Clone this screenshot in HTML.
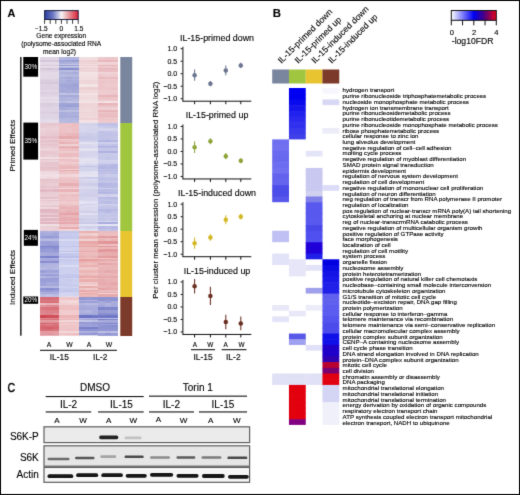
<!DOCTYPE html><html><head><meta charset="utf-8"><style>html,body{margin:0;padding:0;background:#fff;}body{width:520px;height:495px;overflow:hidden;}</style></head><body><svg width="520" height="495" viewBox="0 0 520 495" style="display:block;font-family:'Liberation Sans', sans-serif"><style>text{stroke:currentColor;stroke-width:0.12px;paint-order:stroke} text[fill="#fff"]{stroke:none}</style><rect x="0" y="0" width="520" height="495" fill="#fff"/><defs><filter id="gb" x="0" y="0" width="520" height="495" filterUnits="userSpaceOnUse" color-interpolation-filters="sRGB"><feConvolveMatrix order="3" kernelMatrix="0.01134 0.08382 0.01134 0.08382 0.61935 0.08382 0.01134 0.08382 0.01134" edgeMode="duplicate" preserveAlpha="true"/></filter></defs><g filter="url(#gb)"><rect x="0" y="0" width="520" height="495" fill="#fff"/><text transform="translate(7.4,17.3) scale(0.93,1)" font-size="11.7" font-weight="bold">A</text><defs><linearGradient id="gA" x1="0" x2="1" y1="0" y2="0"><stop offset="0" stop-color="#2c3c9c"/><stop offset="0.25" stop-color="#6b78c4"/><stop offset="0.5" stop-color="#f7f3f5"/><stop offset="0.75" stop-color="#e58c90"/><stop offset="1" stop-color="#dc1f35"/></linearGradient><linearGradient id="gB" x1="0" x2="1" y1="0" y2="0"><stop offset="0" stop-color="#ffffff"/><stop offset="0.5" stop-color="#0000f4"/><stop offset="0.7" stop-color="#3a0090"/><stop offset="0.86" stop-color="#960050"/><stop offset="1" stop-color="#ec001c"/></linearGradient></defs><rect x="44.6" y="10.6" width="33.6" height="8.9" fill="url(#gA)" stroke="#1a1f40" stroke-width="1"/><line x1="44.60" y1="19.5" x2="44.60" y2="23.8" stroke="#222" stroke-width="0.9"/><line x1="50.20" y1="19.5" x2="50.20" y2="23.8" stroke="#222" stroke-width="0.9"/><line x1="55.80" y1="19.5" x2="55.80" y2="23.8" stroke="#222" stroke-width="0.9"/><line x1="61.40" y1="19.5" x2="61.40" y2="23.8" stroke="#222" stroke-width="0.9"/><line x1="67.00" y1="19.5" x2="67.00" y2="23.8" stroke="#222" stroke-width="0.9"/><line x1="72.60" y1="19.5" x2="72.60" y2="23.8" stroke="#222" stroke-width="0.9"/><line x1="78.20" y1="19.5" x2="78.20" y2="23.8" stroke="#222" stroke-width="0.9"/><text font-size="6.5" y="31" text-anchor="middle"><tspan x="41.3">−1.5</tspan><tspan x="61.2">0</tspan><tspan x="78.8">1.5</tspan></text><text font-size="6.6" text-anchor="middle" x="61.3"><tspan x="61.3" y="38.3">Gene expression</tspan><tspan x="61.3" y="46.3">(polysome-associated RNA</tspan><tspan x="59.5" y="54.3">mean log2)</tspan></text><g shape-rendering="crispEdges"><rect x="40.00" y="57" width="7.08" height="3" fill="#dfd5e3"/><rect x="46.48" y="57" width="7.08" height="3" fill="#e0d5e4"/><rect x="52.97" y="57" width="7.08" height="3" fill="#dfd5e3"/><rect x="59.45" y="57" width="7.08" height="3" fill="#b4b8df"/><rect x="65.93" y="57" width="7.08" height="3" fill="#afb3dd"/><rect x="72.42" y="57" width="7.08" height="3" fill="#afb3dd"/><rect x="78.90" y="57" width="7.08" height="3" fill="#f1dee0"/><rect x="85.38" y="57" width="7.08" height="3" fill="#f1dee0"/><rect x="91.87" y="57" width="7.08" height="3" fill="#f1dddf"/><rect x="98.35" y="57" width="7.08" height="3" fill="#edc9cd"/><rect x="104.83" y="57" width="7.08" height="3" fill="#ecc5c9"/><rect x="111.32" y="57" width="6.48" height="3" fill="#ecc7cb"/><rect x="40.00" y="60" width="7.08" height="2" fill="#d4c6da"/><rect x="46.48" y="60" width="7.08" height="2" fill="#d5c8db"/><rect x="52.97" y="60" width="7.08" height="2" fill="#d4c7da"/><rect x="59.45" y="60" width="7.08" height="2" fill="#9fa4d7"/><rect x="65.93" y="60" width="7.08" height="2" fill="#9ea3d6"/><rect x="72.42" y="60" width="7.08" height="2" fill="#999ed4"/><rect x="78.90" y="60" width="7.08" height="2" fill="#edd1d3"/><rect x="85.38" y="60" width="7.08" height="2" fill="#edd1d3"/><rect x="91.87" y="60" width="7.08" height="2" fill="#eccfd1"/><rect x="98.35" y="60" width="7.08" height="2" fill="#e7b6ba"/><rect x="104.83" y="60" width="7.08" height="2" fill="#e8b6bb"/><rect x="111.32" y="60" width="6.48" height="2" fill="#e8b9bd"/><rect x="40.00" y="62" width="7.08" height="2" fill="#e3dae7"/><rect x="46.48" y="62" width="7.08" height="2" fill="#e3dbe7"/><rect x="52.97" y="62" width="7.08" height="2" fill="#e4dbe7"/><rect x="59.45" y="62" width="7.08" height="2" fill="#aaafdb"/><rect x="65.93" y="62" width="7.08" height="2" fill="#aeb2dc"/><rect x="72.42" y="62" width="7.08" height="2" fill="#b1b5de"/><rect x="78.90" y="62" width="7.08" height="2" fill="#eed4d6"/><rect x="85.38" y="62" width="7.08" height="2" fill="#eed3d5"/><rect x="91.87" y="62" width="7.08" height="2" fill="#eed3d5"/><rect x="98.35" y="62" width="7.08" height="2" fill="#f1d7da"/><rect x="104.83" y="62" width="7.08" height="2" fill="#f0d4d7"/><rect x="111.32" y="62" width="6.48" height="2" fill="#f0d6d9"/><rect x="40.00" y="64" width="7.08" height="1" fill="#e2d8e6"/><rect x="46.48" y="64" width="7.08" height="1" fill="#e1d7e5"/><rect x="52.97" y="64" width="7.08" height="1" fill="#e2d8e6"/><rect x="59.45" y="64" width="7.08" height="1" fill="#c3c5e4"/><rect x="65.93" y="64" width="7.08" height="1" fill="#c5c7e5"/><rect x="72.42" y="64" width="7.08" height="1" fill="#c3c6e5"/><rect x="78.90" y="64" width="7.08" height="1" fill="#f1dcde"/><rect x="85.38" y="64" width="7.08" height="1" fill="#f1dcde"/><rect x="91.87" y="64" width="7.08" height="1" fill="#f1dddf"/><rect x="98.35" y="64" width="7.08" height="1" fill="#f0d3d6"/><rect x="104.83" y="64" width="7.08" height="1" fill="#eecfd2"/><rect x="111.32" y="64" width="6.48" height="1" fill="#efd0d3"/><rect x="40.00" y="65" width="7.08" height="1" fill="#d8ccdd"/><rect x="46.48" y="65" width="7.08" height="1" fill="#d9cdde"/><rect x="52.97" y="65" width="7.08" height="1" fill="#d9ccde"/><rect x="59.45" y="65" width="7.08" height="1" fill="#969cd3"/><rect x="65.93" y="65" width="7.08" height="1" fill="#979cd3"/><rect x="72.42" y="65" width="7.08" height="1" fill="#9ba0d5"/><rect x="78.90" y="65" width="7.08" height="1" fill="#edd1d3"/><rect x="85.38" y="65" width="7.08" height="1" fill="#edd1d3"/><rect x="91.87" y="65" width="7.08" height="1" fill="#edd1d3"/><rect x="98.35" y="65" width="7.08" height="1" fill="#e8b7bc"/><rect x="104.83" y="65" width="7.08" height="1" fill="#e8b9bd"/><rect x="111.32" y="65" width="6.48" height="1" fill="#e8b8bd"/><rect x="40.00" y="66" width="7.08" height="1" fill="#e7dfea"/><rect x="46.48" y="66" width="7.08" height="1" fill="#e7e0ea"/><rect x="52.97" y="66" width="7.08" height="1" fill="#e6dee9"/><rect x="59.45" y="66" width="7.08" height="1" fill="#c6c8e6"/><rect x="65.93" y="66" width="7.08" height="1" fill="#c7c9e6"/><rect x="72.42" y="66" width="7.08" height="1" fill="#c2c5e4"/><rect x="78.90" y="66" width="7.08" height="1" fill="#f2dfe1"/><rect x="85.38" y="66" width="7.08" height="1" fill="#f1dee0"/><rect x="91.87" y="66" width="7.08" height="1" fill="#f2e0e2"/><rect x="98.35" y="66" width="7.08" height="1" fill="#ecc7cb"/><rect x="104.83" y="66" width="7.08" height="1" fill="#edcace"/><rect x="111.32" y="66" width="6.48" height="1" fill="#ecc5c9"/><rect x="40.00" y="67" width="7.08" height="1" fill="#e3d9e6"/><rect x="46.48" y="67" width="7.08" height="1" fill="#e3d9e6"/><rect x="52.97" y="67" width="7.08" height="1" fill="#e3dae7"/><rect x="59.45" y="67" width="7.08" height="1" fill="#b3b6de"/><rect x="65.93" y="67" width="7.08" height="1" fill="#b5b9df"/><rect x="72.42" y="67" width="7.08" height="1" fill="#b6b9df"/><rect x="78.90" y="67" width="7.08" height="1" fill="#efd6d8"/><rect x="85.38" y="67" width="7.08" height="1" fill="#eed5d7"/><rect x="91.87" y="67" width="7.08" height="1" fill="#efd7d9"/><rect x="98.35" y="67" width="7.08" height="1" fill="#edc9cd"/><rect x="104.83" y="67" width="7.08" height="1" fill="#edc8cc"/><rect x="111.32" y="67" width="6.48" height="1" fill="#edc9cd"/><rect x="40.00" y="68" width="7.08" height="2" fill="#d6c9db"/><rect x="46.48" y="68" width="7.08" height="2" fill="#d4c6da"/><rect x="52.97" y="68" width="7.08" height="2" fill="#d6c9dc"/><rect x="59.45" y="68" width="7.08" height="2" fill="#8990ce"/><rect x="65.93" y="68" width="7.08" height="2" fill="#858ccd"/><rect x="72.42" y="68" width="7.08" height="2" fill="#8990ce"/><rect x="78.90" y="68" width="7.08" height="2" fill="#edd2d4"/><rect x="85.38" y="68" width="7.08" height="2" fill="#eed5d7"/><rect x="91.87" y="68" width="7.08" height="2" fill="#eed5d7"/><rect x="98.35" y="68" width="7.08" height="2" fill="#e8b9be"/><rect x="104.83" y="68" width="7.08" height="2" fill="#e8b9be"/><rect x="111.32" y="68" width="6.48" height="2" fill="#e8b8bd"/><rect x="40.00" y="70" width="7.08" height="2" fill="#ddd3e2"/><rect x="46.48" y="70" width="7.08" height="2" fill="#ded3e2"/><rect x="52.97" y="70" width="7.08" height="2" fill="#ddd2e2"/><rect x="59.45" y="70" width="7.08" height="2" fill="#b7bae0"/><rect x="65.93" y="70" width="7.08" height="2" fill="#babde1"/><rect x="72.42" y="70" width="7.08" height="2" fill="#b7bae0"/><rect x="78.90" y="70" width="7.08" height="2" fill="#eed5d7"/><rect x="85.38" y="70" width="7.08" height="2" fill="#eed5d7"/><rect x="91.87" y="70" width="7.08" height="2" fill="#eed5d7"/><rect x="98.35" y="70" width="7.08" height="2" fill="#eac0c4"/><rect x="104.83" y="70" width="7.08" height="2" fill="#eabec2"/><rect x="111.32" y="70" width="6.48" height="2" fill="#eabfc3"/><rect x="40.00" y="72" width="7.08" height="2" fill="#e2d9e6"/><rect x="46.48" y="72" width="7.08" height="2" fill="#e3dae7"/><rect x="52.97" y="72" width="7.08" height="2" fill="#e4dbe8"/><rect x="59.45" y="72" width="7.08" height="2" fill="#acb0db"/><rect x="65.93" y="72" width="7.08" height="2" fill="#aaafdb"/><rect x="72.42" y="72" width="7.08" height="2" fill="#a8acda"/><rect x="78.90" y="72" width="7.08" height="2" fill="#f3e4e6"/><rect x="85.38" y="72" width="7.08" height="2" fill="#f3e4e6"/><rect x="91.87" y="72" width="7.08" height="2" fill="#f3e3e5"/><rect x="98.35" y="72" width="7.08" height="2" fill="#f0d4d7"/><rect x="104.83" y="72" width="7.08" height="2" fill="#f0d4d8"/><rect x="111.32" y="72" width="6.48" height="2" fill="#f0d3d6"/><rect x="40.00" y="74" width="7.08" height="3" fill="#e3dae6"/><rect x="46.48" y="74" width="7.08" height="3" fill="#e2d9e6"/><rect x="52.97" y="74" width="7.08" height="3" fill="#e2d9e6"/><rect x="59.45" y="74" width="7.08" height="3" fill="#b6b9e0"/><rect x="65.93" y="74" width="7.08" height="3" fill="#b4b7df"/><rect x="72.42" y="74" width="7.08" height="3" fill="#b4b7df"/><rect x="78.90" y="74" width="7.08" height="3" fill="#f2e1e3"/><rect x="85.38" y="74" width="7.08" height="3" fill="#f2e0e2"/><rect x="91.87" y="74" width="7.08" height="3" fill="#f2e0e2"/><rect x="98.35" y="74" width="7.08" height="3" fill="#edc8cc"/><rect x="104.83" y="74" width="7.08" height="3" fill="#eeccd0"/><rect x="111.32" y="74" width="6.48" height="3" fill="#eeccd0"/><rect x="40.00" y="77" width="7.08" height="2" fill="#e2d9e6"/><rect x="46.48" y="77" width="7.08" height="2" fill="#e3d9e6"/><rect x="52.97" y="77" width="7.08" height="2" fill="#e3d9e6"/><rect x="59.45" y="77" width="7.08" height="2" fill="#aaafdb"/><rect x="65.93" y="77" width="7.08" height="2" fill="#a4a8d8"/><rect x="72.42" y="77" width="7.08" height="2" fill="#a9adda"/><rect x="78.90" y="77" width="7.08" height="2" fill="#f1dddf"/><rect x="85.38" y="77" width="7.08" height="2" fill="#f1dee0"/><rect x="91.87" y="77" width="7.08" height="2" fill="#f1dddf"/><rect x="98.35" y="77" width="7.08" height="2" fill="#e9babf"/><rect x="104.83" y="77" width="7.08" height="2" fill="#eabec3"/><rect x="111.32" y="77" width="6.48" height="2" fill="#e9bbc0"/><rect x="40.00" y="79" width="7.08" height="1" fill="#dbcfe0"/><rect x="46.48" y="79" width="7.08" height="1" fill="#ddd2e1"/><rect x="52.97" y="79" width="7.08" height="1" fill="#dcd1e1"/><rect x="59.45" y="79" width="7.08" height="1" fill="#b3b6de"/><rect x="65.93" y="79" width="7.08" height="1" fill="#b0b4dd"/><rect x="72.42" y="79" width="7.08" height="1" fill="#aeb2dd"/><rect x="78.90" y="79" width="7.08" height="1" fill="#f1dcde"/><rect x="85.38" y="79" width="7.08" height="1" fill="#f0dbdd"/><rect x="91.87" y="79" width="7.08" height="1" fill="#f1dddf"/><rect x="98.35" y="79" width="7.08" height="1" fill="#eeccd0"/><rect x="104.83" y="79" width="7.08" height="1" fill="#edc9cd"/><rect x="111.32" y="79" width="6.48" height="1" fill="#edcace"/><rect x="40.00" y="80" width="7.08" height="2" fill="#dacedf"/><rect x="46.48" y="80" width="7.08" height="2" fill="#d9cdde"/><rect x="52.97" y="80" width="7.08" height="2" fill="#dacedf"/><rect x="59.45" y="80" width="7.08" height="2" fill="#adb1dc"/><rect x="65.93" y="80" width="7.08" height="2" fill="#a4a9d9"/><rect x="72.42" y="80" width="7.08" height="2" fill="#aaaedb"/><rect x="78.90" y="80" width="7.08" height="2" fill="#efd6d8"/><rect x="85.38" y="80" width="7.08" height="2" fill="#eed5d7"/><rect x="91.87" y="80" width="7.08" height="2" fill="#efd6d8"/><rect x="98.35" y="80" width="7.08" height="2" fill="#ecc5c9"/><rect x="104.83" y="80" width="7.08" height="2" fill="#ecc6ca"/><rect x="111.32" y="80" width="6.48" height="2" fill="#ecc5c9"/><rect x="40.00" y="82" width="7.08" height="2" fill="#d7cadc"/><rect x="46.48" y="82" width="7.08" height="2" fill="#d6c9dc"/><rect x="52.97" y="82" width="7.08" height="2" fill="#d5c8db"/><rect x="59.45" y="82" width="7.08" height="2" fill="#aaaedb"/><rect x="65.93" y="82" width="7.08" height="2" fill="#a7acda"/><rect x="72.42" y="82" width="7.08" height="2" fill="#a4a9d9"/><rect x="78.90" y="82" width="7.08" height="2" fill="#efd7d9"/><rect x="85.38" y="82" width="7.08" height="2" fill="#efd6d8"/><rect x="91.87" y="82" width="7.08" height="2" fill="#efd6d8"/><rect x="98.35" y="82" width="7.08" height="2" fill="#ecc6ca"/><rect x="104.83" y="82" width="7.08" height="2" fill="#ecc7cb"/><rect x="111.32" y="82" width="6.48" height="2" fill="#ecc6ca"/><rect x="40.00" y="84" width="7.08" height="3" fill="#ddd2e2"/><rect x="46.48" y="84" width="7.08" height="3" fill="#dcd1e1"/><rect x="52.97" y="84" width="7.08" height="3" fill="#ded3e2"/><rect x="59.45" y="84" width="7.08" height="3" fill="#a1a6d7"/><rect x="65.93" y="84" width="7.08" height="3" fill="#a1a6d7"/><rect x="72.42" y="84" width="7.08" height="3" fill="#9ea3d6"/><rect x="78.90" y="84" width="7.08" height="3" fill="#f4e5e7"/><rect x="85.38" y="84" width="7.08" height="3" fill="#f3e3e5"/><rect x="91.87" y="84" width="7.08" height="3" fill="#f3e4e6"/><rect x="98.35" y="84" width="7.08" height="3" fill="#ecc6ca"/><rect x="104.83" y="84" width="7.08" height="3" fill="#edcbcf"/><rect x="111.32" y="84" width="6.48" height="3" fill="#edcace"/><rect x="40.00" y="87" width="7.08" height="3" fill="#dcd0e0"/><rect x="46.48" y="87" width="7.08" height="3" fill="#ddd2e1"/><rect x="52.97" y="87" width="7.08" height="3" fill="#dcd1e1"/><rect x="59.45" y="87" width="7.08" height="3" fill="#a7abda"/><rect x="65.93" y="87" width="7.08" height="3" fill="#a2a7d8"/><rect x="72.42" y="87" width="7.08" height="3" fill="#a2a7d8"/><rect x="78.90" y="87" width="7.08" height="3" fill="#edd0d2"/><rect x="85.38" y="87" width="7.08" height="3" fill="#eccfd1"/><rect x="91.87" y="87" width="7.08" height="3" fill="#eccfd1"/><rect x="98.35" y="87" width="7.08" height="3" fill="#ecc5c9"/><rect x="104.83" y="87" width="7.08" height="3" fill="#ecc5c9"/><rect x="111.32" y="87" width="6.48" height="3" fill="#ebc4c8"/><rect x="40.00" y="90" width="7.08" height="2" fill="#e1d7e5"/><rect x="46.48" y="90" width="7.08" height="2" fill="#e0d6e4"/><rect x="52.97" y="90" width="7.08" height="2" fill="#e0d5e4"/><rect x="59.45" y="90" width="7.08" height="2" fill="#a3a8d8"/><rect x="65.93" y="90" width="7.08" height="2" fill="#a9adda"/><rect x="72.42" y="90" width="7.08" height="2" fill="#a6aad9"/><rect x="78.90" y="90" width="7.08" height="2" fill="#f0d9db"/><rect x="85.38" y="90" width="7.08" height="2" fill="#f0d9db"/><rect x="91.87" y="90" width="7.08" height="2" fill="#f0dadc"/><rect x="98.35" y="90" width="7.08" height="2" fill="#edcbcf"/><rect x="104.83" y="90" width="7.08" height="2" fill="#edcbcf"/><rect x="111.32" y="90" width="6.48" height="2" fill="#edcbcf"/><rect x="40.00" y="92" width="7.08" height="1" fill="#d9cdde"/><rect x="46.48" y="92" width="7.08" height="1" fill="#dbcfe0"/><rect x="52.97" y="92" width="7.08" height="1" fill="#dacedf"/><rect x="59.45" y="92" width="7.08" height="1" fill="#a9adda"/><rect x="65.93" y="92" width="7.08" height="1" fill="#a4a9d9"/><rect x="72.42" y="92" width="7.08" height="1" fill="#a3a8d8"/><rect x="78.90" y="92" width="7.08" height="1" fill="#eed5d7"/><rect x="85.38" y="92" width="7.08" height="1" fill="#eed4d6"/><rect x="91.87" y="92" width="7.08" height="1" fill="#efd6d8"/><rect x="98.35" y="92" width="7.08" height="1" fill="#edcbcf"/><rect x="104.83" y="92" width="7.08" height="1" fill="#edcbcf"/><rect x="111.32" y="92" width="6.48" height="1" fill="#edcace"/><rect x="40.00" y="93" width="7.08" height="2" fill="#dbd0e0"/><rect x="46.48" y="93" width="7.08" height="2" fill="#ddd3e2"/><rect x="52.97" y="93" width="7.08" height="2" fill="#dcd0e0"/><rect x="59.45" y="93" width="7.08" height="2" fill="#c2c4e4"/><rect x="65.93" y="93" width="7.08" height="2" fill="#bec1e3"/><rect x="72.42" y="93" width="7.08" height="2" fill="#bfc2e3"/><rect x="78.90" y="93" width="7.08" height="2" fill="#f3e4e6"/><rect x="85.38" y="93" width="7.08" height="2" fill="#f3e4e6"/><rect x="91.87" y="93" width="7.08" height="2" fill="#f3e3e5"/><rect x="98.35" y="93" width="7.08" height="2" fill="#edcbcf"/><rect x="104.83" y="93" width="7.08" height="2" fill="#edcace"/><rect x="111.32" y="93" width="6.48" height="2" fill="#ecc7cb"/><rect x="40.00" y="95" width="7.08" height="2" fill="#dfd5e3"/><rect x="46.48" y="95" width="7.08" height="2" fill="#e0d6e4"/><rect x="52.97" y="95" width="7.08" height="2" fill="#e0d6e4"/><rect x="59.45" y="95" width="7.08" height="2" fill="#a5aad9"/><rect x="65.93" y="95" width="7.08" height="2" fill="#a6aad9"/><rect x="72.42" y="95" width="7.08" height="2" fill="#a5aad9"/><rect x="78.90" y="95" width="7.08" height="2" fill="#f1dcde"/><rect x="85.38" y="95" width="7.08" height="2" fill="#f0dbdd"/><rect x="91.87" y="95" width="7.08" height="2" fill="#f0dadc"/><rect x="98.35" y="95" width="7.08" height="2" fill="#e8b7bc"/><rect x="104.83" y="95" width="7.08" height="2" fill="#e7b4b9"/><rect x="111.32" y="95" width="6.48" height="2" fill="#e7b5b9"/><rect x="40.00" y="97" width="7.08" height="2" fill="#e6dde9"/><rect x="46.48" y="97" width="7.08" height="2" fill="#e4dce8"/><rect x="52.97" y="97" width="7.08" height="2" fill="#e6dde9"/><rect x="59.45" y="97" width="7.08" height="2" fill="#afb3dd"/><rect x="65.93" y="97" width="7.08" height="2" fill="#b3b7de"/><rect x="72.42" y="97" width="7.08" height="2" fill="#aeb2dc"/><rect x="78.90" y="97" width="7.08" height="2" fill="#f0d9db"/><rect x="85.38" y="97" width="7.08" height="2" fill="#f0dadc"/><rect x="91.87" y="97" width="7.08" height="2" fill="#f0dadc"/><rect x="98.35" y="97" width="7.08" height="2" fill="#ebc3c7"/><rect x="104.83" y="97" width="7.08" height="2" fill="#ebc1c5"/><rect x="111.32" y="97" width="6.48" height="2" fill="#ecc5c9"/><rect x="40.00" y="99" width="7.08" height="2" fill="#e2d9e6"/><rect x="46.48" y="99" width="7.08" height="2" fill="#e2d8e5"/><rect x="52.97" y="99" width="7.08" height="2" fill="#e1d8e5"/><rect x="59.45" y="99" width="7.08" height="2" fill="#b0b4dd"/><rect x="65.93" y="99" width="7.08" height="2" fill="#b0b4dd"/><rect x="72.42" y="99" width="7.08" height="2" fill="#b6b9e0"/><rect x="78.90" y="99" width="7.08" height="2" fill="#f1dee0"/><rect x="85.38" y="99" width="7.08" height="2" fill="#f1dee0"/><rect x="91.87" y="99" width="7.08" height="2" fill="#f1dcde"/><rect x="98.35" y="99" width="7.08" height="2" fill="#ecc7cb"/><rect x="104.83" y="99" width="7.08" height="2" fill="#ecc8cc"/><rect x="111.32" y="99" width="6.48" height="2" fill="#ecc6ca"/><rect x="40.00" y="101" width="7.08" height="2" fill="#e3dae7"/><rect x="46.48" y="101" width="7.08" height="2" fill="#e4dbe7"/><rect x="52.97" y="101" width="7.08" height="2" fill="#e5dde8"/><rect x="59.45" y="101" width="7.08" height="2" fill="#b8bbe0"/><rect x="65.93" y="101" width="7.08" height="2" fill="#c1c3e4"/><rect x="72.42" y="101" width="7.08" height="2" fill="#bfc1e3"/><rect x="78.90" y="101" width="7.08" height="2" fill="#f3e4e6"/><rect x="85.38" y="101" width="7.08" height="2" fill="#f3e4e6"/><rect x="91.87" y="101" width="7.08" height="2" fill="#f3e3e5"/><rect x="98.35" y="101" width="7.08" height="2" fill="#f3e1e4"/><rect x="104.83" y="101" width="7.08" height="2" fill="#f4e4e7"/><rect x="111.32" y="101" width="6.48" height="2" fill="#f3e0e3"/><rect x="40.00" y="103" width="7.08" height="2" fill="#dacedf"/><rect x="46.48" y="103" width="7.08" height="2" fill="#d8ccde"/><rect x="52.97" y="103" width="7.08" height="2" fill="#dacfdf"/><rect x="59.45" y="103" width="7.08" height="2" fill="#9fa4d7"/><rect x="65.93" y="103" width="7.08" height="2" fill="#a0a5d7"/><rect x="72.42" y="103" width="7.08" height="2" fill="#a0a5d7"/><rect x="78.90" y="103" width="7.08" height="2" fill="#eed3d5"/><rect x="85.38" y="103" width="7.08" height="2" fill="#eed3d5"/><rect x="91.87" y="103" width="7.08" height="2" fill="#eed4d6"/><rect x="98.35" y="103" width="7.08" height="2" fill="#e7b3b7"/><rect x="104.83" y="103" width="7.08" height="2" fill="#e7b5b9"/><rect x="111.32" y="103" width="6.48" height="2" fill="#e8b6bb"/><rect x="40.00" y="105" width="7.08" height="2" fill="#dbcfe0"/><rect x="46.48" y="105" width="7.08" height="2" fill="#dacfdf"/><rect x="52.97" y="105" width="7.08" height="2" fill="#dcd1e1"/><rect x="59.45" y="105" width="7.08" height="2" fill="#9da2d6"/><rect x="65.93" y="105" width="7.08" height="2" fill="#979dd4"/><rect x="72.42" y="105" width="7.08" height="2" fill="#9aa0d5"/><rect x="78.90" y="105" width="7.08" height="2" fill="#eed3d5"/><rect x="85.38" y="105" width="7.08" height="2" fill="#eed4d6"/><rect x="91.87" y="105" width="7.08" height="2" fill="#eed3d5"/><rect x="98.35" y="105" width="7.08" height="2" fill="#ebc1c5"/><rect x="104.83" y="105" width="7.08" height="2" fill="#eac0c4"/><rect x="111.32" y="105" width="6.48" height="2" fill="#ebc1c5"/><rect x="40.00" y="107" width="7.08" height="3" fill="#e0d5e4"/><rect x="46.48" y="107" width="7.08" height="3" fill="#ded4e2"/><rect x="52.97" y="107" width="7.08" height="3" fill="#e0d6e4"/><rect x="59.45" y="107" width="7.08" height="3" fill="#a5aad9"/><rect x="65.93" y="107" width="7.08" height="3" fill="#aaaedb"/><rect x="72.42" y="107" width="7.08" height="3" fill="#acb1dc"/><rect x="78.90" y="107" width="7.08" height="3" fill="#efd6d8"/><rect x="85.38" y="107" width="7.08" height="3" fill="#efd6d8"/><rect x="91.87" y="107" width="7.08" height="3" fill="#efd6d8"/><rect x="98.35" y="107" width="7.08" height="3" fill="#eeced2"/><rect x="104.83" y="107" width="7.08" height="3" fill="#eeced2"/><rect x="111.32" y="107" width="6.48" height="3" fill="#efd0d4"/><rect x="40.00" y="110" width="7.08" height="2" fill="#ded4e3"/><rect x="46.48" y="110" width="7.08" height="2" fill="#ded4e3"/><rect x="52.97" y="110" width="7.08" height="2" fill="#ded3e2"/><rect x="59.45" y="110" width="7.08" height="2" fill="#bbbee2"/><rect x="65.93" y="110" width="7.08" height="2" fill="#bdc0e2"/><rect x="72.42" y="110" width="7.08" height="2" fill="#bcbfe2"/><rect x="78.90" y="110" width="7.08" height="2" fill="#efd8da"/><rect x="85.38" y="110" width="7.08" height="2" fill="#f0dadc"/><rect x="91.87" y="110" width="7.08" height="2" fill="#efd7d9"/><rect x="98.35" y="110" width="7.08" height="2" fill="#e7b5b9"/><rect x="104.83" y="110" width="7.08" height="2" fill="#e7b4b9"/><rect x="111.32" y="110" width="6.48" height="2" fill="#e8b7bc"/><rect x="40.00" y="112" width="7.08" height="1" fill="#d8cbdd"/><rect x="46.48" y="112" width="7.08" height="1" fill="#d9cdde"/><rect x="52.97" y="112" width="7.08" height="1" fill="#d6c8db"/><rect x="59.45" y="112" width="7.08" height="1" fill="#a7acda"/><rect x="65.93" y="112" width="7.08" height="1" fill="#adb1dc"/><rect x="72.42" y="112" width="7.08" height="1" fill="#a7acda"/><rect x="78.90" y="112" width="7.08" height="1" fill="#eed4d6"/><rect x="85.38" y="112" width="7.08" height="1" fill="#eed4d6"/><rect x="91.87" y="112" width="7.08" height="1" fill="#efd7d9"/><rect x="98.35" y="112" width="7.08" height="1" fill="#ecc6ca"/><rect x="104.83" y="112" width="7.08" height="1" fill="#ecc5c9"/><rect x="111.32" y="112" width="6.48" height="1" fill="#ebc3c7"/><rect x="40.00" y="113" width="7.08" height="3" fill="#dfd4e3"/><rect x="46.48" y="113" width="7.08" height="3" fill="#dfd4e3"/><rect x="52.97" y="113" width="7.08" height="3" fill="#ded3e2"/><rect x="59.45" y="113" width="7.08" height="3" fill="#a9adda"/><rect x="65.93" y="113" width="7.08" height="3" fill="#acb0dc"/><rect x="72.42" y="113" width="7.08" height="3" fill="#adb1dc"/><rect x="78.90" y="113" width="7.08" height="3" fill="#efd7d9"/><rect x="85.38" y="113" width="7.08" height="3" fill="#efd8da"/><rect x="91.87" y="113" width="7.08" height="3" fill="#efd7d9"/><rect x="98.35" y="113" width="7.08" height="3" fill="#eabec3"/><rect x="104.83" y="113" width="7.08" height="3" fill="#e9bdc1"/><rect x="111.32" y="113" width="6.48" height="3" fill="#eabfc4"/><rect x="40.00" y="116" width="7.08" height="1" fill="#dfd5e4"/><rect x="46.48" y="116" width="7.08" height="1" fill="#dfd5e3"/><rect x="52.97" y="116" width="7.08" height="1" fill="#e0d6e4"/><rect x="59.45" y="116" width="7.08" height="1" fill="#aaaedb"/><rect x="65.93" y="116" width="7.08" height="1" fill="#a9addb"/><rect x="72.42" y="116" width="7.08" height="1" fill="#a6aad9"/><rect x="78.90" y="116" width="7.08" height="1" fill="#f0dadc"/><rect x="85.38" y="116" width="7.08" height="1" fill="#f0dbdd"/><rect x="91.87" y="116" width="7.08" height="1" fill="#f0dbdd"/><rect x="98.35" y="116" width="7.08" height="1" fill="#e8b9bd"/><rect x="104.83" y="116" width="7.08" height="1" fill="#e8b9bd"/><rect x="111.32" y="116" width="6.48" height="1" fill="#e8b8bd"/><rect x="40.00" y="117" width="7.08" height="1" fill="#dcd1e1"/><rect x="46.48" y="117" width="7.08" height="1" fill="#ddd2e2"/><rect x="52.97" y="117" width="7.08" height="1" fill="#ddd2e1"/><rect x="59.45" y="117" width="7.08" height="1" fill="#a7acda"/><rect x="65.93" y="117" width="7.08" height="1" fill="#abafdb"/><rect x="72.42" y="117" width="7.08" height="1" fill="#aaafdb"/><rect x="78.90" y="117" width="7.08" height="1" fill="#efd7d9"/><rect x="85.38" y="117" width="7.08" height="1" fill="#efd8da"/><rect x="91.87" y="117" width="7.08" height="1" fill="#efd6d8"/><rect x="98.35" y="117" width="7.08" height="1" fill="#ecc7cb"/><rect x="104.83" y="117" width="7.08" height="1" fill="#ecc7cb"/><rect x="111.32" y="117" width="6.48" height="1" fill="#ecc8cb"/><rect x="40.00" y="118" width="7.08" height="2" fill="#e2d9e6"/><rect x="46.48" y="118" width="7.08" height="2" fill="#e2d9e6"/><rect x="52.97" y="118" width="7.08" height="2" fill="#e0d6e4"/><rect x="59.45" y="118" width="7.08" height="2" fill="#b4b8df"/><rect x="65.93" y="118" width="7.08" height="2" fill="#b4b7df"/><rect x="72.42" y="118" width="7.08" height="2" fill="#b2b5de"/><rect x="78.90" y="118" width="7.08" height="2" fill="#eed3d5"/><rect x="85.38" y="118" width="7.08" height="2" fill="#edd2d4"/><rect x="91.87" y="118" width="7.08" height="2" fill="#edd0d2"/><rect x="98.35" y="118" width="7.08" height="2" fill="#ecc5c9"/><rect x="104.83" y="118" width="7.08" height="2" fill="#ecc5c9"/><rect x="111.32" y="118" width="6.48" height="2" fill="#ecc6ca"/><rect x="40.00" y="120" width="7.08" height="3" fill="#e3dae7"/><rect x="46.48" y="120" width="7.08" height="3" fill="#e4dce8"/><rect x="52.97" y="120" width="7.08" height="3" fill="#e4dce8"/><rect x="59.45" y="120" width="7.08" height="3" fill="#b8bbe0"/><rect x="65.93" y="120" width="7.08" height="3" fill="#b5b9df"/><rect x="72.42" y="120" width="7.08" height="3" fill="#b7bae0"/><rect x="78.90" y="120" width="7.08" height="3" fill="#f2e1e3"/><rect x="85.38" y="120" width="7.08" height="3" fill="#f2e1e3"/><rect x="91.87" y="120" width="7.08" height="3" fill="#f3e2e4"/><rect x="98.35" y="120" width="7.08" height="3" fill="#edc8cc"/><rect x="104.83" y="120" width="7.08" height="3" fill="#edc9cd"/><rect x="111.32" y="120" width="6.48" height="3" fill="#edc9cd"/><rect x="40.00" y="123" width="7.08" height="3" fill="#e8c9d1"/><rect x="46.48" y="123" width="7.08" height="3" fill="#e7c7cf"/><rect x="52.97" y="123" width="7.08" height="3" fill="#e7c6ce"/><rect x="59.45" y="123" width="7.08" height="3" fill="#ecc1c5"/><rect x="65.93" y="123" width="7.08" height="3" fill="#ecc2c6"/><rect x="72.42" y="123" width="7.08" height="3" fill="#ebbdc1"/><rect x="78.90" y="123" width="7.08" height="3" fill="#d3d3ec"/><rect x="85.38" y="123" width="7.08" height="3" fill="#d3d3ec"/><rect x="91.87" y="123" width="7.08" height="3" fill="#d1d1eb"/><rect x="98.35" y="123" width="7.08" height="3" fill="#c0c2e7"/><rect x="104.83" y="123" width="7.08" height="3" fill="#bfc1e6"/><rect x="111.32" y="123" width="6.48" height="3" fill="#bdbfe6"/><rect x="40.00" y="126" width="7.08" height="2" fill="#e8c9d1"/><rect x="46.48" y="126" width="7.08" height="2" fill="#eaced5"/><rect x="52.97" y="126" width="7.08" height="2" fill="#eacfd6"/><rect x="59.45" y="126" width="7.08" height="2" fill="#edc3c6"/><rect x="65.93" y="126" width="7.08" height="2" fill="#ecc1c5"/><rect x="72.42" y="126" width="7.08" height="2" fill="#ecc0c3"/><rect x="78.90" y="126" width="7.08" height="2" fill="#d7d7ed"/><rect x="85.38" y="126" width="7.08" height="2" fill="#d5d5ec"/><rect x="91.87" y="126" width="7.08" height="2" fill="#d6d6ed"/><rect x="98.35" y="126" width="7.08" height="2" fill="#cbccea"/><rect x="104.83" y="126" width="7.08" height="2" fill="#c6c8e9"/><rect x="111.32" y="126" width="6.48" height="2" fill="#c6c8e9"/><rect x="40.00" y="128" width="7.08" height="3" fill="#ecd3d9"/><rect x="46.48" y="128" width="7.08" height="3" fill="#eacfd6"/><rect x="52.97" y="128" width="7.08" height="3" fill="#ebd0d7"/><rect x="59.45" y="128" width="7.08" height="3" fill="#edc3c7"/><rect x="65.93" y="128" width="7.08" height="3" fill="#edc4c7"/><rect x="72.42" y="128" width="7.08" height="3" fill="#ebbec2"/><rect x="78.90" y="128" width="7.08" height="3" fill="#d6d6ed"/><rect x="85.38" y="128" width="7.08" height="3" fill="#d4d4ec"/><rect x="91.87" y="128" width="7.08" height="3" fill="#d3d3ec"/><rect x="98.35" y="128" width="7.08" height="3" fill="#d4d4ed"/><rect x="104.83" y="128" width="7.08" height="3" fill="#d4d4ed"/><rect x="111.32" y="128" width="6.48" height="3" fill="#d2d2ed"/><rect x="40.00" y="131" width="7.08" height="2" fill="#eacfd6"/><rect x="46.48" y="131" width="7.08" height="2" fill="#e9cbd3"/><rect x="52.97" y="131" width="7.08" height="2" fill="#e9cbd3"/><rect x="59.45" y="131" width="7.08" height="2" fill="#ecc1c5"/><rect x="65.93" y="131" width="7.08" height="2" fill="#edc4c8"/><rect x="72.42" y="131" width="7.08" height="2" fill="#edc3c7"/><rect x="78.90" y="131" width="7.08" height="2" fill="#d4d4ec"/><rect x="85.38" y="131" width="7.08" height="2" fill="#d3d3ec"/><rect x="91.87" y="131" width="7.08" height="2" fill="#d5d5ec"/><rect x="98.35" y="131" width="7.08" height="2" fill="#bfc1e6"/><rect x="104.83" y="131" width="7.08" height="2" fill="#c3c4e8"/><rect x="111.32" y="131" width="6.48" height="2" fill="#c5c6e8"/><rect x="40.00" y="133" width="7.08" height="3" fill="#eacdd4"/><rect x="46.48" y="133" width="7.08" height="3" fill="#e9cad2"/><rect x="52.97" y="133" width="7.08" height="3" fill="#e8c8d0"/><rect x="59.45" y="133" width="7.08" height="3" fill="#ebbbbf"/><rect x="65.93" y="133" width="7.08" height="3" fill="#eab8bc"/><rect x="72.42" y="133" width="7.08" height="3" fill="#eab6ba"/><rect x="78.90" y="133" width="7.08" height="3" fill="#cdceea"/><rect x="85.38" y="133" width="7.08" height="3" fill="#cccce9"/><rect x="91.87" y="133" width="7.08" height="3" fill="#cccde9"/><rect x="98.35" y="133" width="7.08" height="3" fill="#c2c4e7"/><rect x="104.83" y="133" width="7.08" height="3" fill="#c0c2e7"/><rect x="111.32" y="133" width="6.48" height="3" fill="#c2c3e7"/><rect x="40.00" y="136" width="7.08" height="3" fill="#e5bfc8"/><rect x="46.48" y="136" width="7.08" height="3" fill="#e6c2cb"/><rect x="52.97" y="136" width="7.08" height="3" fill="#e5c0c9"/><rect x="59.45" y="136" width="7.08" height="3" fill="#e6aaae"/><rect x="65.93" y="136" width="7.08" height="3" fill="#e6aaae"/><rect x="72.42" y="136" width="7.08" height="3" fill="#e7acb0"/><rect x="78.90" y="136" width="7.08" height="3" fill="#c6c7e7"/><rect x="85.38" y="136" width="7.08" height="3" fill="#c7c7e7"/><rect x="91.87" y="136" width="7.08" height="3" fill="#cacbe8"/><rect x="98.35" y="136" width="7.08" height="3" fill="#c0c2e7"/><rect x="104.83" y="136" width="7.08" height="3" fill="#c2c3e7"/><rect x="111.32" y="136" width="6.48" height="3" fill="#c4c6e8"/><rect x="40.00" y="139" width="7.08" height="1" fill="#ebd0d7"/><rect x="46.48" y="139" width="7.08" height="1" fill="#ebd0d7"/><rect x="52.97" y="139" width="7.08" height="1" fill="#eaced5"/><rect x="59.45" y="139" width="7.08" height="1" fill="#efccd0"/><rect x="65.93" y="139" width="7.08" height="1" fill="#eecacd"/><rect x="72.42" y="139" width="7.08" height="1" fill="#efcace"/><rect x="78.90" y="139" width="7.08" height="1" fill="#c8c9e8"/><rect x="85.38" y="139" width="7.08" height="1" fill="#c7c8e7"/><rect x="91.87" y="139" width="7.08" height="1" fill="#c8c8e7"/><rect x="98.35" y="139" width="7.08" height="1" fill="#c1c3e7"/><rect x="104.83" y="139" width="7.08" height="1" fill="#bec0e6"/><rect x="111.32" y="139" width="6.48" height="1" fill="#c2c4e7"/><rect x="40.00" y="140" width="7.08" height="2" fill="#e5c1ca"/><rect x="46.48" y="140" width="7.08" height="2" fill="#e5c1ca"/><rect x="52.97" y="140" width="7.08" height="2" fill="#e4bec7"/><rect x="59.45" y="140" width="7.08" height="2" fill="#ecbfc3"/><rect x="65.93" y="140" width="7.08" height="2" fill="#ecc1c4"/><rect x="72.42" y="140" width="7.08" height="2" fill="#edc3c6"/><rect x="78.90" y="140" width="7.08" height="2" fill="#cfcfea"/><rect x="85.38" y="140" width="7.08" height="2" fill="#d0d0ea"/><rect x="91.87" y="140" width="7.08" height="2" fill="#cfd0ea"/><rect x="98.35" y="140" width="7.08" height="2" fill="#b5b7e3"/><rect x="104.83" y="140" width="7.08" height="2" fill="#b1b3e2"/><rect x="111.32" y="140" width="6.48" height="2" fill="#b5b8e3"/><rect x="40.00" y="142" width="7.08" height="2" fill="#e8c9d0"/><rect x="46.48" y="142" width="7.08" height="2" fill="#e8c9d1"/><rect x="52.97" y="142" width="7.08" height="2" fill="#e8c8d0"/><rect x="59.45" y="142" width="7.08" height="2" fill="#e8b1b5"/><rect x="65.93" y="142" width="7.08" height="2" fill="#e9b5b9"/><rect x="72.42" y="142" width="7.08" height="2" fill="#eab8bc"/><rect x="78.90" y="142" width="7.08" height="2" fill="#e3e2f2"/><rect x="85.38" y="142" width="7.08" height="2" fill="#e2e2f1"/><rect x="91.87" y="142" width="7.08" height="2" fill="#e1e0f1"/><rect x="98.35" y="142" width="7.08" height="2" fill="#cecfeb"/><rect x="104.83" y="142" width="7.08" height="2" fill="#cecfeb"/><rect x="111.32" y="142" width="6.48" height="2" fill="#cecfeb"/><rect x="40.00" y="144" width="7.08" height="2" fill="#e7c5ce"/><rect x="46.48" y="144" width="7.08" height="2" fill="#e6c4cc"/><rect x="52.97" y="144" width="7.08" height="2" fill="#e7c5cd"/><rect x="59.45" y="144" width="7.08" height="2" fill="#f0d0d3"/><rect x="65.93" y="144" width="7.08" height="2" fill="#f0d0d3"/><rect x="72.42" y="144" width="7.08" height="2" fill="#f0d1d5"/><rect x="78.90" y="144" width="7.08" height="2" fill="#d7d7ed"/><rect x="85.38" y="144" width="7.08" height="2" fill="#d8d8ee"/><rect x="91.87" y="144" width="7.08" height="2" fill="#dadaee"/><rect x="98.35" y="144" width="7.08" height="2" fill="#c2c3e7"/><rect x="104.83" y="144" width="7.08" height="2" fill="#c5c6e8"/><rect x="111.32" y="144" width="6.48" height="2" fill="#c0c2e7"/><rect x="40.00" y="146" width="7.08" height="1" fill="#eacdd4"/><rect x="46.48" y="146" width="7.08" height="1" fill="#ebcfd6"/><rect x="52.97" y="146" width="7.08" height="1" fill="#ebcfd6"/><rect x="59.45" y="146" width="7.08" height="1" fill="#ebbcc0"/><rect x="65.93" y="146" width="7.08" height="1" fill="#ebbec1"/><rect x="72.42" y="146" width="7.08" height="1" fill="#eab7bb"/><rect x="78.90" y="146" width="7.08" height="1" fill="#d6d5ed"/><rect x="85.38" y="146" width="7.08" height="1" fill="#d5d5ec"/><rect x="91.87" y="146" width="7.08" height="1" fill="#d7d7ed"/><rect x="98.35" y="146" width="7.08" height="1" fill="#aeb1e1"/><rect x="104.83" y="146" width="7.08" height="1" fill="#b2b4e2"/><rect x="111.32" y="146" width="6.48" height="1" fill="#b0b2e1"/><rect x="40.00" y="147" width="7.08" height="1" fill="#e8c7cf"/><rect x="46.48" y="147" width="7.08" height="1" fill="#e9c9d1"/><rect x="52.97" y="147" width="7.08" height="1" fill="#e7c7cf"/><rect x="59.45" y="147" width="7.08" height="1" fill="#e5a3a8"/><rect x="65.93" y="147" width="7.08" height="1" fill="#e5a3a8"/><rect x="72.42" y="147" width="7.08" height="1" fill="#e5a2a7"/><rect x="78.90" y="147" width="7.08" height="1" fill="#d3d3ec"/><rect x="85.38" y="147" width="7.08" height="1" fill="#d1d1eb"/><rect x="91.87" y="147" width="7.08" height="1" fill="#d4d4ec"/><rect x="98.35" y="147" width="7.08" height="1" fill="#b9bbe4"/><rect x="104.83" y="147" width="7.08" height="1" fill="#b9bbe4"/><rect x="111.32" y="147" width="6.48" height="1" fill="#babce5"/><rect x="40.00" y="148" width="7.08" height="3" fill="#ecd4da"/><rect x="46.48" y="148" width="7.08" height="3" fill="#ecd4da"/><rect x="52.97" y="148" width="7.08" height="3" fill="#ebd1d8"/><rect x="59.45" y="148" width="7.08" height="3" fill="#ecc0c4"/><rect x="65.93" y="148" width="7.08" height="3" fill="#ecc1c5"/><rect x="72.42" y="148" width="7.08" height="3" fill="#ebbec2"/><rect x="78.90" y="148" width="7.08" height="3" fill="#e4e3f2"/><rect x="85.38" y="148" width="7.08" height="3" fill="#e3e2f1"/><rect x="91.87" y="148" width="7.08" height="3" fill="#e2e1f1"/><rect x="98.35" y="148" width="7.08" height="3" fill="#c5c6e8"/><rect x="104.83" y="148" width="7.08" height="3" fill="#c4c5e8"/><rect x="111.32" y="148" width="6.48" height="3" fill="#c5c7e8"/><rect x="40.00" y="151" width="7.08" height="2" fill="#e8c7cf"/><rect x="46.48" y="151" width="7.08" height="2" fill="#e8c8d0"/><rect x="52.97" y="151" width="7.08" height="2" fill="#e9cad2"/><rect x="59.45" y="151" width="7.08" height="2" fill="#efcbce"/><rect x="65.93" y="151" width="7.08" height="2" fill="#efcccf"/><rect x="72.42" y="151" width="7.08" height="2" fill="#efcbce"/><rect x="78.90" y="151" width="7.08" height="2" fill="#d4d4ec"/><rect x="85.38" y="151" width="7.08" height="2" fill="#d5d5ec"/><rect x="91.87" y="151" width="7.08" height="2" fill="#d6d5ed"/><rect x="98.35" y="151" width="7.08" height="2" fill="#afb2e1"/><rect x="104.83" y="151" width="7.08" height="2" fill="#b0b3e1"/><rect x="111.32" y="151" width="6.48" height="2" fill="#adb0e0"/><rect x="40.00" y="153" width="7.08" height="1" fill="#e7c6cf"/><rect x="46.48" y="153" width="7.08" height="1" fill="#e6c4cc"/><rect x="52.97" y="153" width="7.08" height="1" fill="#e7c6ce"/><rect x="59.45" y="153" width="7.08" height="1" fill="#ebbec2"/><rect x="65.93" y="153" width="7.08" height="1" fill="#ebbdc0"/><rect x="72.42" y="153" width="7.08" height="1" fill="#ebbbbf"/><rect x="78.90" y="153" width="7.08" height="1" fill="#d5d5ec"/><rect x="85.38" y="153" width="7.08" height="1" fill="#d4d4ec"/><rect x="91.87" y="153" width="7.08" height="1" fill="#d5d5ec"/><rect x="98.35" y="153" width="7.08" height="1" fill="#c9caea"/><rect x="104.83" y="153" width="7.08" height="1" fill="#cbccea"/><rect x="111.32" y="153" width="6.48" height="1" fill="#c8c9e9"/><rect x="40.00" y="154" width="7.08" height="3" fill="#e8c9d1"/><rect x="46.48" y="154" width="7.08" height="3" fill="#eaced5"/><rect x="52.97" y="154" width="7.08" height="3" fill="#e9cbd2"/><rect x="59.45" y="154" width="7.08" height="3" fill="#ebbbbf"/><rect x="65.93" y="154" width="7.08" height="3" fill="#ebbcbf"/><rect x="72.42" y="154" width="7.08" height="3" fill="#ebbec1"/><rect x="78.90" y="154" width="7.08" height="3" fill="#d3d4ec"/><rect x="85.38" y="154" width="7.08" height="3" fill="#d5d5ed"/><rect x="91.87" y="154" width="7.08" height="3" fill="#d6d6ed"/><rect x="98.35" y="154" width="7.08" height="3" fill="#c9caea"/><rect x="104.83" y="154" width="7.08" height="3" fill="#c7c9e9"/><rect x="111.32" y="154" width="6.48" height="3" fill="#c8cae9"/><rect x="40.00" y="157" width="7.08" height="2" fill="#f1dfe4"/><rect x="46.48" y="157" width="7.08" height="2" fill="#f0dee3"/><rect x="52.97" y="157" width="7.08" height="2" fill="#f0dee3"/><rect x="59.45" y="157" width="7.08" height="2" fill="#f0d0d3"/><rect x="65.93" y="157" width="7.08" height="2" fill="#f0d1d5"/><rect x="72.42" y="157" width="7.08" height="2" fill="#f1d3d6"/><rect x="78.90" y="157" width="7.08" height="2" fill="#dcdcef"/><rect x="85.38" y="157" width="7.08" height="2" fill="#ddddef"/><rect x="91.87" y="157" width="7.08" height="2" fill="#dddcef"/><rect x="98.35" y="157" width="7.08" height="2" fill="#c6c7e9"/><rect x="104.83" y="157" width="7.08" height="2" fill="#c4c5e8"/><rect x="111.32" y="157" width="6.48" height="2" fill="#c6c7e9"/><rect x="40.00" y="159" width="7.08" height="1" fill="#e7c6ce"/><rect x="46.48" y="159" width="7.08" height="1" fill="#e8c7cf"/><rect x="52.97" y="159" width="7.08" height="1" fill="#e7c5cd"/><rect x="59.45" y="159" width="7.08" height="1" fill="#ecbfc3"/><rect x="65.93" y="159" width="7.08" height="1" fill="#edc4c7"/><rect x="72.42" y="159" width="7.08" height="1" fill="#eec6ca"/><rect x="78.90" y="159" width="7.08" height="1" fill="#e4e4f2"/><rect x="85.38" y="159" width="7.08" height="1" fill="#e6e5f3"/><rect x="91.87" y="159" width="7.08" height="1" fill="#e5e4f2"/><rect x="98.35" y="159" width="7.08" height="1" fill="#c9caea"/><rect x="104.83" y="159" width="7.08" height="1" fill="#c3c5e8"/><rect x="111.32" y="159" width="6.48" height="1" fill="#c8c9e9"/><rect x="40.00" y="160" width="7.08" height="2" fill="#ebd1d8"/><rect x="46.48" y="160" width="7.08" height="2" fill="#ecd3d9"/><rect x="52.97" y="160" width="7.08" height="2" fill="#ecd4da"/><rect x="59.45" y="160" width="7.08" height="2" fill="#edc5c9"/><rect x="65.93" y="160" width="7.08" height="2" fill="#edc3c7"/><rect x="72.42" y="160" width="7.08" height="2" fill="#ecbfc3"/><rect x="78.90" y="160" width="7.08" height="2" fill="#e1e1f1"/><rect x="85.38" y="160" width="7.08" height="2" fill="#e1e0f1"/><rect x="91.87" y="160" width="7.08" height="2" fill="#e1e0f1"/><rect x="98.35" y="160" width="7.08" height="2" fill="#d2d3ed"/><rect x="104.83" y="160" width="7.08" height="2" fill="#d2d2ed"/><rect x="111.32" y="160" width="6.48" height="2" fill="#d3d3ed"/><rect x="40.00" y="162" width="7.08" height="2" fill="#e8c7cf"/><rect x="46.48" y="162" width="7.08" height="2" fill="#e7c4cd"/><rect x="52.97" y="162" width="7.08" height="2" fill="#e6c4cc"/><rect x="59.45" y="162" width="7.08" height="2" fill="#f0cfd2"/><rect x="65.93" y="162" width="7.08" height="2" fill="#efcccf"/><rect x="72.42" y="162" width="7.08" height="2" fill="#f0ced1"/><rect x="78.90" y="162" width="7.08" height="2" fill="#e1e1f1"/><rect x="85.38" y="162" width="7.08" height="2" fill="#dfdef0"/><rect x="91.87" y="162" width="7.08" height="2" fill="#e0e0f0"/><rect x="98.35" y="162" width="7.08" height="2" fill="#cdceeb"/><rect x="104.83" y="162" width="7.08" height="2" fill="#cfd0ec"/><rect x="111.32" y="162" width="6.48" height="2" fill="#cecfeb"/><rect x="40.00" y="164" width="7.08" height="2" fill="#e7c6ce"/><rect x="46.48" y="164" width="7.08" height="2" fill="#e7c5cd"/><rect x="52.97" y="164" width="7.08" height="2" fill="#e7c5cd"/><rect x="59.45" y="164" width="7.08" height="2" fill="#ecc0c3"/><rect x="65.93" y="164" width="7.08" height="2" fill="#ecc1c5"/><rect x="72.42" y="164" width="7.08" height="2" fill="#ecc2c6"/><rect x="78.90" y="164" width="7.08" height="2" fill="#d8d8ee"/><rect x="85.38" y="164" width="7.08" height="2" fill="#d4d4ec"/><rect x="91.87" y="164" width="7.08" height="2" fill="#d6d6ed"/><rect x="98.35" y="164" width="7.08" height="2" fill="#bbbde5"/><rect x="104.83" y="164" width="7.08" height="2" fill="#bbbde5"/><rect x="111.32" y="164" width="6.48" height="2" fill="#b4b7e3"/><rect x="40.00" y="166" width="7.08" height="1" fill="#e8c8d0"/><rect x="46.48" y="166" width="7.08" height="1" fill="#e8c8d0"/><rect x="52.97" y="166" width="7.08" height="1" fill="#e8c7cf"/><rect x="59.45" y="166" width="7.08" height="1" fill="#eab6ba"/><rect x="65.93" y="166" width="7.08" height="1" fill="#e9b5b9"/><rect x="72.42" y="166" width="7.08" height="1" fill="#eab7bb"/><rect x="78.90" y="166" width="7.08" height="1" fill="#c4c5e6"/><rect x="85.38" y="166" width="7.08" height="1" fill="#c2c3e5"/><rect x="91.87" y="166" width="7.08" height="1" fill="#c4c5e6"/><rect x="98.35" y="166" width="7.08" height="1" fill="#b3b6e2"/><rect x="104.83" y="166" width="7.08" height="1" fill="#b6b8e3"/><rect x="111.32" y="166" width="6.48" height="1" fill="#b3b6e2"/><rect x="40.00" y="167" width="7.08" height="2" fill="#e5c0c9"/><rect x="46.48" y="167" width="7.08" height="2" fill="#e5c0c9"/><rect x="52.97" y="167" width="7.08" height="2" fill="#e4bfc8"/><rect x="59.45" y="167" width="7.08" height="2" fill="#e9b6ba"/><rect x="65.93" y="167" width="7.08" height="2" fill="#e9b6ba"/><rect x="72.42" y="167" width="7.08" height="2" fill="#eab7bb"/><rect x="78.90" y="167" width="7.08" height="2" fill="#d2d2eb"/><rect x="85.38" y="167" width="7.08" height="2" fill="#d2d3eb"/><rect x="91.87" y="167" width="7.08" height="2" fill="#d3d3eb"/><rect x="98.35" y="167" width="7.08" height="2" fill="#b2b5e2"/><rect x="104.83" y="167" width="7.08" height="2" fill="#b5b8e3"/><rect x="111.32" y="167" width="6.48" height="2" fill="#b3b6e2"/><rect x="40.00" y="169" width="7.08" height="1" fill="#e7c5ce"/><rect x="46.48" y="169" width="7.08" height="1" fill="#e7c6ce"/><rect x="52.97" y="169" width="7.08" height="1" fill="#e7c4cd"/><rect x="59.45" y="169" width="7.08" height="1" fill="#f0d1d5"/><rect x="65.93" y="169" width="7.08" height="1" fill="#f1d5d8"/><rect x="72.42" y="169" width="7.08" height="1" fill="#f1d3d6"/><rect x="78.90" y="169" width="7.08" height="1" fill="#d2d2eb"/><rect x="85.38" y="169" width="7.08" height="1" fill="#d3d3ec"/><rect x="91.87" y="169" width="7.08" height="1" fill="#d3d3eb"/><rect x="98.35" y="169" width="7.08" height="1" fill="#c2c3e7"/><rect x="104.83" y="169" width="7.08" height="1" fill="#bec0e6"/><rect x="111.32" y="169" width="6.48" height="1" fill="#c2c3e7"/><rect x="40.00" y="170" width="7.08" height="1" fill="#e7c4cd"/><rect x="46.48" y="170" width="7.08" height="1" fill="#e7c5cd"/><rect x="52.97" y="170" width="7.08" height="1" fill="#e7c6ce"/><rect x="59.45" y="170" width="7.08" height="1" fill="#e7aaaf"/><rect x="65.93" y="170" width="7.08" height="1" fill="#e7abb0"/><rect x="72.42" y="170" width="7.08" height="1" fill="#e6aaae"/><rect x="78.90" y="170" width="7.08" height="1" fill="#d2d2eb"/><rect x="85.38" y="170" width="7.08" height="1" fill="#cfcfea"/><rect x="91.87" y="170" width="7.08" height="1" fill="#d1d1eb"/><rect x="98.35" y="170" width="7.08" height="1" fill="#b5b8e3"/><rect x="104.83" y="170" width="7.08" height="1" fill="#b4b7e3"/><rect x="111.32" y="170" width="6.48" height="1" fill="#b5b7e3"/><rect x="40.00" y="171" width="7.08" height="3" fill="#efd9df"/><rect x="46.48" y="171" width="7.08" height="3" fill="#eed9df"/><rect x="52.97" y="171" width="7.08" height="3" fill="#eed7de"/><rect x="59.45" y="171" width="7.08" height="3" fill="#edc2c6"/><rect x="65.93" y="171" width="7.08" height="3" fill="#edc5c8"/><rect x="72.42" y="171" width="7.08" height="3" fill="#edc3c6"/><rect x="78.90" y="171" width="7.08" height="3" fill="#dfdef0"/><rect x="85.38" y="171" width="7.08" height="3" fill="#e1e0f1"/><rect x="91.87" y="171" width="7.08" height="3" fill="#e3e2f1"/><rect x="98.35" y="171" width="7.08" height="3" fill="#bec0e6"/><rect x="104.83" y="171" width="7.08" height="3" fill="#bfc1e6"/><rect x="111.32" y="171" width="6.48" height="3" fill="#bcbfe5"/><rect x="40.00" y="174" width="7.08" height="3" fill="#f0dee4"/><rect x="46.48" y="174" width="7.08" height="3" fill="#f1dfe4"/><rect x="52.97" y="174" width="7.08" height="3" fill="#f1e0e5"/><rect x="59.45" y="174" width="7.08" height="3" fill="#f1d5d8"/><rect x="65.93" y="174" width="7.08" height="3" fill="#f1d5d8"/><rect x="72.42" y="174" width="7.08" height="3" fill="#f2d9dc"/><rect x="78.90" y="174" width="7.08" height="3" fill="#e5e4f2"/><rect x="85.38" y="174" width="7.08" height="3" fill="#e4e3f2"/><rect x="91.87" y="174" width="7.08" height="3" fill="#e3e3f2"/><rect x="98.35" y="174" width="7.08" height="3" fill="#c6c7e9"/><rect x="104.83" y="174" width="7.08" height="3" fill="#cccdeb"/><rect x="111.32" y="174" width="6.48" height="3" fill="#c9cbea"/><rect x="40.00" y="177" width="7.08" height="2" fill="#efdbe1"/><rect x="46.48" y="177" width="7.08" height="2" fill="#eed7de"/><rect x="52.97" y="177" width="7.08" height="2" fill="#efdbe1"/><rect x="59.45" y="177" width="7.08" height="2" fill="#eec6ca"/><rect x="65.93" y="177" width="7.08" height="2" fill="#edc6c9"/><rect x="72.42" y="177" width="7.08" height="2" fill="#eec8cb"/><rect x="78.90" y="177" width="7.08" height="2" fill="#cfcfea"/><rect x="85.38" y="177" width="7.08" height="2" fill="#cbcbe9"/><rect x="91.87" y="177" width="7.08" height="2" fill="#cccde9"/><rect x="98.35" y="177" width="7.08" height="2" fill="#bfc1e6"/><rect x="104.83" y="177" width="7.08" height="2" fill="#c0c1e7"/><rect x="111.32" y="177" width="6.48" height="2" fill="#c0c2e7"/><rect x="40.00" y="179" width="7.08" height="1" fill="#e5c0c9"/><rect x="46.48" y="179" width="7.08" height="1" fill="#e4bfc8"/><rect x="52.97" y="179" width="7.08" height="1" fill="#e5c0c9"/><rect x="59.45" y="179" width="7.08" height="1" fill="#ecc2c6"/><rect x="65.93" y="179" width="7.08" height="1" fill="#edc2c6"/><rect x="72.42" y="179" width="7.08" height="1" fill="#edc6c9"/><rect x="78.90" y="179" width="7.08" height="1" fill="#dbdbef"/><rect x="85.38" y="179" width="7.08" height="1" fill="#dfdef0"/><rect x="91.87" y="179" width="7.08" height="1" fill="#dfdef0"/><rect x="98.35" y="179" width="7.08" height="1" fill="#babce5"/><rect x="104.83" y="179" width="7.08" height="1" fill="#bec0e6"/><rect x="111.32" y="179" width="6.48" height="1" fill="#bbbde5"/><rect x="40.00" y="180" width="7.08" height="3" fill="#e8c7cf"/><rect x="46.48" y="180" width="7.08" height="3" fill="#e8c8d0"/><rect x="52.97" y="180" width="7.08" height="3" fill="#e8c7cf"/><rect x="59.45" y="180" width="7.08" height="3" fill="#ecc1c4"/><rect x="65.93" y="180" width="7.08" height="3" fill="#ecc1c4"/><rect x="72.42" y="180" width="7.08" height="3" fill="#ecbfc3"/><rect x="78.90" y="180" width="7.08" height="3" fill="#d4d4ec"/><rect x="85.38" y="180" width="7.08" height="3" fill="#d5d5ec"/><rect x="91.87" y="180" width="7.08" height="3" fill="#d6d6ed"/><rect x="98.35" y="180" width="7.08" height="3" fill="#c4c6e8"/><rect x="104.83" y="180" width="7.08" height="3" fill="#c4c6e8"/><rect x="111.32" y="180" width="6.48" height="3" fill="#c3c5e8"/><rect x="40.00" y="183" width="7.08" height="3" fill="#e9cad2"/><rect x="46.48" y="183" width="7.08" height="3" fill="#eaced5"/><rect x="52.97" y="183" width="7.08" height="3" fill="#e9ccd3"/><rect x="59.45" y="183" width="7.08" height="3" fill="#e7aeb2"/><rect x="65.93" y="183" width="7.08" height="3" fill="#e7adb2"/><rect x="72.42" y="183" width="7.08" height="3" fill="#e8afb3"/><rect x="78.90" y="183" width="7.08" height="3" fill="#d0d0eb"/><rect x="85.38" y="183" width="7.08" height="3" fill="#ceceea"/><rect x="91.87" y="183" width="7.08" height="3" fill="#cccce9"/><rect x="98.35" y="183" width="7.08" height="3" fill="#b2b5e2"/><rect x="104.83" y="183" width="7.08" height="3" fill="#b5b8e3"/><rect x="111.32" y="183" width="6.48" height="3" fill="#b7bae4"/><rect x="40.00" y="186" width="7.08" height="2" fill="#e5c1ca"/><rect x="46.48" y="186" width="7.08" height="2" fill="#e7c5cd"/><rect x="52.97" y="186" width="7.08" height="2" fill="#e6c3cc"/><rect x="59.45" y="186" width="7.08" height="2" fill="#ecc0c4"/><rect x="65.93" y="186" width="7.08" height="2" fill="#edc3c7"/><rect x="72.42" y="186" width="7.08" height="2" fill="#ecc0c4"/><rect x="78.90" y="186" width="7.08" height="2" fill="#d9d8ee"/><rect x="85.38" y="186" width="7.08" height="2" fill="#d9d9ee"/><rect x="91.87" y="186" width="7.08" height="2" fill="#d7d7ed"/><rect x="98.35" y="186" width="7.08" height="2" fill="#babce5"/><rect x="104.83" y="186" width="7.08" height="2" fill="#b8bae4"/><rect x="111.32" y="186" width="6.48" height="2" fill="#b9bce4"/><rect x="40.00" y="188" width="7.08" height="1" fill="#ebd0d7"/><rect x="46.48" y="188" width="7.08" height="1" fill="#ebd0d7"/><rect x="52.97" y="188" width="7.08" height="1" fill="#ebd1d8"/><rect x="59.45" y="188" width="7.08" height="1" fill="#f1d5d8"/><rect x="65.93" y="188" width="7.08" height="1" fill="#f1d5d8"/><rect x="72.42" y="188" width="7.08" height="1" fill="#f1d3d6"/><rect x="78.90" y="188" width="7.08" height="1" fill="#dbdaef"/><rect x="85.38" y="188" width="7.08" height="1" fill="#dadaee"/><rect x="91.87" y="188" width="7.08" height="1" fill="#d9d9ee"/><rect x="98.35" y="188" width="7.08" height="1" fill="#cdceeb"/><rect x="104.83" y="188" width="7.08" height="1" fill="#cecfeb"/><rect x="111.32" y="188" width="6.48" height="1" fill="#cccdeb"/><rect x="40.00" y="189" width="7.08" height="3" fill="#e2b8c2"/><rect x="46.48" y="189" width="7.08" height="3" fill="#e4bcc6"/><rect x="52.97" y="189" width="7.08" height="3" fill="#e2b7c1"/><rect x="59.45" y="189" width="7.08" height="3" fill="#e9b3b8"/><rect x="65.93" y="189" width="7.08" height="3" fill="#e9b2b6"/><rect x="72.42" y="189" width="7.08" height="3" fill="#e8b1b6"/><rect x="78.90" y="189" width="7.08" height="3" fill="#d3d3eb"/><rect x="85.38" y="189" width="7.08" height="3" fill="#d2d3eb"/><rect x="91.87" y="189" width="7.08" height="3" fill="#d0d0eb"/><rect x="98.35" y="189" width="7.08" height="3" fill="#b9bce4"/><rect x="104.83" y="189" width="7.08" height="3" fill="#babce5"/><rect x="111.32" y="189" width="6.48" height="3" fill="#bbbee5"/><rect x="40.00" y="192" width="7.08" height="2" fill="#e9cbd3"/><rect x="46.48" y="192" width="7.08" height="2" fill="#e9ccd3"/><rect x="52.97" y="192" width="7.08" height="2" fill="#e9ccd3"/><rect x="59.45" y="192" width="7.08" height="2" fill="#efcdd1"/><rect x="65.93" y="192" width="7.08" height="2" fill="#efcdd1"/><rect x="72.42" y="192" width="7.08" height="2" fill="#f0d0d3"/><rect x="78.90" y="192" width="7.08" height="2" fill="#d1d1eb"/><rect x="85.38" y="192" width="7.08" height="2" fill="#d0d0eb"/><rect x="91.87" y="192" width="7.08" height="2" fill="#d0d0eb"/><rect x="98.35" y="192" width="7.08" height="2" fill="#b4b6e3"/><rect x="104.83" y="192" width="7.08" height="2" fill="#b5b8e3"/><rect x="111.32" y="192" width="6.48" height="2" fill="#b7b9e4"/><rect x="40.00" y="194" width="7.08" height="3" fill="#eacdd5"/><rect x="46.48" y="194" width="7.08" height="3" fill="#eaccd4"/><rect x="52.97" y="194" width="7.08" height="3" fill="#eaced6"/><rect x="59.45" y="194" width="7.08" height="3" fill="#ecbfc3"/><rect x="65.93" y="194" width="7.08" height="3" fill="#ecc2c5"/><rect x="72.42" y="194" width="7.08" height="3" fill="#ebbec2"/><rect x="78.90" y="194" width="7.08" height="3" fill="#cfcfea"/><rect x="85.38" y="194" width="7.08" height="3" fill="#cfcfea"/><rect x="91.87" y="194" width="7.08" height="3" fill="#cfcfea"/><rect x="98.35" y="194" width="7.08" height="3" fill="#d3d3ed"/><rect x="104.83" y="194" width="7.08" height="3" fill="#cfd0ec"/><rect x="111.32" y="194" width="6.48" height="3" fill="#d4d4ed"/><rect x="40.00" y="197" width="7.08" height="2" fill="#e5c1ca"/><rect x="46.48" y="197" width="7.08" height="2" fill="#e6c2ca"/><rect x="52.97" y="197" width="7.08" height="2" fill="#e6c2cb"/><rect x="59.45" y="197" width="7.08" height="2" fill="#edc4c7"/><rect x="65.93" y="197" width="7.08" height="2" fill="#edc4c7"/><rect x="72.42" y="197" width="7.08" height="2" fill="#edc4c8"/><rect x="78.90" y="197" width="7.08" height="2" fill="#d4d4ec"/><rect x="85.38" y="197" width="7.08" height="2" fill="#d6d6ed"/><rect x="91.87" y="197" width="7.08" height="2" fill="#d7d6ed"/><rect x="98.35" y="197" width="7.08" height="2" fill="#babce5"/><rect x="104.83" y="197" width="7.08" height="2" fill="#b7bae4"/><rect x="111.32" y="197" width="6.48" height="2" fill="#b6b9e3"/><rect x="40.00" y="199" width="7.08" height="1" fill="#edd7dd"/><rect x="46.48" y="199" width="7.08" height="1" fill="#eed8de"/><rect x="52.97" y="199" width="7.08" height="1" fill="#eed8de"/><rect x="59.45" y="199" width="7.08" height="1" fill="#edc2c6"/><rect x="65.93" y="199" width="7.08" height="1" fill="#eec6ca"/><rect x="72.42" y="199" width="7.08" height="1" fill="#eec7ca"/><rect x="78.90" y="199" width="7.08" height="1" fill="#d6d5ed"/><rect x="85.38" y="199" width="7.08" height="1" fill="#d7d7ed"/><rect x="91.87" y="199" width="7.08" height="1" fill="#d5d5ec"/><rect x="98.35" y="199" width="7.08" height="1" fill="#c3c4e8"/><rect x="104.83" y="199" width="7.08" height="1" fill="#bec0e6"/><rect x="111.32" y="199" width="6.48" height="1" fill="#bcbee5"/><rect x="40.00" y="200" width="7.08" height="1" fill="#e8c7cf"/><rect x="46.48" y="200" width="7.08" height="1" fill="#e7c5cd"/><rect x="52.97" y="200" width="7.08" height="1" fill="#e7c4cd"/><rect x="59.45" y="200" width="7.08" height="1" fill="#ecbfc3"/><rect x="65.93" y="200" width="7.08" height="1" fill="#ebbcc0"/><rect x="72.42" y="200" width="7.08" height="1" fill="#ecbec2"/><rect x="78.90" y="200" width="7.08" height="1" fill="#d9d9ee"/><rect x="85.38" y="200" width="7.08" height="1" fill="#d5d5ec"/><rect x="91.87" y="200" width="7.08" height="1" fill="#d7d7ed"/><rect x="98.35" y="200" width="7.08" height="1" fill="#c1c2e7"/><rect x="104.83" y="200" width="7.08" height="1" fill="#c2c4e7"/><rect x="111.32" y="200" width="6.48" height="1" fill="#c3c4e8"/><rect x="40.00" y="201" width="7.08" height="3" fill="#ecd2d8"/><rect x="46.48" y="201" width="7.08" height="3" fill="#ecd2d8"/><rect x="52.97" y="201" width="7.08" height="3" fill="#ecd3da"/><rect x="59.45" y="201" width="7.08" height="3" fill="#efcccf"/><rect x="65.93" y="201" width="7.08" height="3" fill="#eecacd"/><rect x="72.42" y="201" width="7.08" height="3" fill="#efcbce"/><rect x="78.90" y="201" width="7.08" height="3" fill="#e4e3f2"/><rect x="85.38" y="201" width="7.08" height="3" fill="#e2e1f1"/><rect x="91.87" y="201" width="7.08" height="3" fill="#e2e1f1"/><rect x="98.35" y="201" width="7.08" height="3" fill="#bec0e6"/><rect x="104.83" y="201" width="7.08" height="3" fill="#b9bbe4"/><rect x="111.32" y="201" width="6.48" height="3" fill="#bdbfe6"/><rect x="40.00" y="204" width="7.08" height="1" fill="#efdae0"/><rect x="46.48" y="204" width="7.08" height="1" fill="#efdae0"/><rect x="52.97" y="204" width="7.08" height="1" fill="#efdbe0"/><rect x="59.45" y="204" width="7.08" height="1" fill="#eec7cb"/><rect x="65.93" y="204" width="7.08" height="1" fill="#eec8cc"/><rect x="72.42" y="204" width="7.08" height="1" fill="#efcccf"/><rect x="78.90" y="204" width="7.08" height="1" fill="#d3d3ec"/><rect x="85.38" y="204" width="7.08" height="1" fill="#d1d1eb"/><rect x="91.87" y="204" width="7.08" height="1" fill="#d3d3ec"/><rect x="98.35" y="204" width="7.08" height="1" fill="#d4d4ed"/><rect x="104.83" y="204" width="7.08" height="1" fill="#d5d6ee"/><rect x="111.32" y="204" width="6.48" height="1" fill="#d0d1ec"/><rect x="40.00" y="205" width="7.08" height="2" fill="#e9cbd3"/><rect x="46.48" y="205" width="7.08" height="2" fill="#e9cbd2"/><rect x="52.97" y="205" width="7.08" height="2" fill="#e7c6ce"/><rect x="59.45" y="205" width="7.08" height="2" fill="#ebbabe"/><rect x="65.93" y="205" width="7.08" height="2" fill="#ebbdc1"/><rect x="72.42" y="205" width="7.08" height="2" fill="#ebbabe"/><rect x="78.90" y="205" width="7.08" height="2" fill="#d9d9ee"/><rect x="85.38" y="205" width="7.08" height="2" fill="#ddddef"/><rect x="91.87" y="205" width="7.08" height="2" fill="#deddf0"/><rect x="98.35" y="205" width="7.08" height="2" fill="#c7c8e9"/><rect x="104.83" y="205" width="7.08" height="2" fill="#c4c5e8"/><rect x="111.32" y="205" width="6.48" height="2" fill="#c9caea"/><rect x="40.00" y="207" width="7.08" height="2" fill="#eed7dd"/><rect x="46.48" y="207" width="7.08" height="2" fill="#edd5db"/><rect x="52.97" y="207" width="7.08" height="2" fill="#eed8de"/><rect x="59.45" y="207" width="7.08" height="2" fill="#e8b2b6"/><rect x="65.93" y="207" width="7.08" height="2" fill="#e9b3b7"/><rect x="72.42" y="207" width="7.08" height="2" fill="#e9b4b8"/><rect x="78.90" y="207" width="7.08" height="2" fill="#dbdaee"/><rect x="85.38" y="207" width="7.08" height="2" fill="#d9d9ee"/><rect x="91.87" y="207" width="7.08" height="2" fill="#d8d8ee"/><rect x="98.35" y="207" width="7.08" height="2" fill="#c3c4e8"/><rect x="104.83" y="207" width="7.08" height="2" fill="#c2c3e7"/><rect x="111.32" y="207" width="6.48" height="2" fill="#c2c3e7"/><rect x="40.00" y="209" width="7.08" height="2" fill="#e1b6c1"/><rect x="46.48" y="209" width="7.08" height="2" fill="#e1b6c0"/><rect x="52.97" y="209" width="7.08" height="2" fill="#e2b9c3"/><rect x="59.45" y="209" width="7.08" height="2" fill="#ebbdc0"/><rect x="65.93" y="209" width="7.08" height="2" fill="#e9b5b9"/><rect x="72.42" y="209" width="7.08" height="2" fill="#eab7bb"/><rect x="78.90" y="209" width="7.08" height="2" fill="#d7d7ed"/><rect x="85.38" y="209" width="7.08" height="2" fill="#d7d7ed"/><rect x="91.87" y="209" width="7.08" height="2" fill="#d9d9ee"/><rect x="98.35" y="209" width="7.08" height="2" fill="#b5b8e3"/><rect x="104.83" y="209" width="7.08" height="2" fill="#b5b8e3"/><rect x="111.32" y="209" width="6.48" height="2" fill="#b8bbe4"/><rect x="40.00" y="211" width="7.08" height="2" fill="#e3bac4"/><rect x="46.48" y="211" width="7.08" height="2" fill="#e3bac4"/><rect x="52.97" y="211" width="7.08" height="2" fill="#e2b8c2"/><rect x="59.45" y="211" width="7.08" height="2" fill="#e9b4b9"/><rect x="65.93" y="211" width="7.08" height="2" fill="#e8b0b4"/><rect x="72.42" y="211" width="7.08" height="2" fill="#e9b3b7"/><rect x="78.90" y="211" width="7.08" height="2" fill="#cfd0ea"/><rect x="85.38" y="211" width="7.08" height="2" fill="#ceceea"/><rect x="91.87" y="211" width="7.08" height="2" fill="#d0d0ea"/><rect x="98.35" y="211" width="7.08" height="2" fill="#bec0e6"/><rect x="104.83" y="211" width="7.08" height="2" fill="#b7b9e4"/><rect x="111.32" y="211" width="6.48" height="2" fill="#c0c2e7"/><rect x="40.00" y="213" width="7.08" height="2" fill="#e9cad2"/><rect x="46.48" y="213" width="7.08" height="2" fill="#e9cad2"/><rect x="52.97" y="213" width="7.08" height="2" fill="#e8c8d0"/><rect x="59.45" y="213" width="7.08" height="2" fill="#e5a6ab"/><rect x="65.93" y="213" width="7.08" height="2" fill="#e5a3a8"/><rect x="72.42" y="213" width="7.08" height="2" fill="#e4a0a4"/><rect x="78.90" y="213" width="7.08" height="2" fill="#e0e0f1"/><rect x="85.38" y="213" width="7.08" height="2" fill="#e2e1f1"/><rect x="91.87" y="213" width="7.08" height="2" fill="#dedef0"/><rect x="98.35" y="213" width="7.08" height="2" fill="#c6c8e9"/><rect x="104.83" y="213" width="7.08" height="2" fill="#c6c8e9"/><rect x="111.32" y="213" width="6.48" height="2" fill="#c3c5e8"/><rect x="40.00" y="215" width="7.08" height="2" fill="#e1b5c0"/><rect x="46.48" y="215" width="7.08" height="2" fill="#e2b8c2"/><rect x="52.97" y="215" width="7.08" height="2" fill="#e1b6c0"/><rect x="59.45" y="215" width="7.08" height="2" fill="#e9b5b9"/><rect x="65.93" y="215" width="7.08" height="2" fill="#eab9bd"/><rect x="72.42" y="215" width="7.08" height="2" fill="#eab8bc"/><rect x="78.90" y="215" width="7.08" height="2" fill="#d4d4ec"/><rect x="85.38" y="215" width="7.08" height="2" fill="#d2d2eb"/><rect x="91.87" y="215" width="7.08" height="2" fill="#d3d3eb"/><rect x="98.35" y="215" width="7.08" height="2" fill="#c3c4e8"/><rect x="104.83" y="215" width="7.08" height="2" fill="#c5c6e8"/><rect x="111.32" y="215" width="6.48" height="2" fill="#c3c4e8"/><rect x="40.00" y="217" width="7.08" height="1" fill="#edd4db"/><rect x="46.48" y="217" width="7.08" height="1" fill="#edd6dc"/><rect x="52.97" y="217" width="7.08" height="1" fill="#ecd4da"/><rect x="59.45" y="217" width="7.08" height="1" fill="#e7acb0"/><rect x="65.93" y="217" width="7.08" height="1" fill="#e8b1b5"/><rect x="72.42" y="217" width="7.08" height="1" fill="#e9b3b7"/><rect x="78.90" y="217" width="7.08" height="1" fill="#d7d6ed"/><rect x="85.38" y="217" width="7.08" height="1" fill="#d8d8ee"/><rect x="91.87" y="217" width="7.08" height="1" fill="#d7d7ed"/><rect x="98.35" y="217" width="7.08" height="1" fill="#c7c9e9"/><rect x="104.83" y="217" width="7.08" height="1" fill="#c7c9e9"/><rect x="111.32" y="217" width="6.48" height="1" fill="#c8c9e9"/><rect x="40.00" y="218" width="7.08" height="3" fill="#e2b9c3"/><rect x="46.48" y="218" width="7.08" height="3" fill="#e2b8c2"/><rect x="52.97" y="218" width="7.08" height="3" fill="#e3bac3"/><rect x="59.45" y="218" width="7.08" height="3" fill="#e7acb1"/><rect x="65.93" y="218" width="7.08" height="3" fill="#e7adb1"/><rect x="72.42" y="218" width="7.08" height="3" fill="#e6a9ae"/><rect x="78.90" y="218" width="7.08" height="3" fill="#cdcde9"/><rect x="85.38" y="218" width="7.08" height="3" fill="#cfcfea"/><rect x="91.87" y="218" width="7.08" height="3" fill="#d0d0ea"/><rect x="98.35" y="218" width="7.08" height="3" fill="#c2c4e7"/><rect x="104.83" y="218" width="7.08" height="3" fill="#c6c8e9"/><rect x="111.32" y="218" width="6.48" height="3" fill="#c0c2e7"/><rect x="40.00" y="221" width="7.08" height="1" fill="#e8c8d0"/><rect x="46.48" y="221" width="7.08" height="1" fill="#ebd1d8"/><rect x="52.97" y="221" width="7.08" height="1" fill="#ebcfd6"/><rect x="59.45" y="221" width="7.08" height="1" fill="#ebbabe"/><rect x="65.93" y="221" width="7.08" height="1" fill="#eababe"/><rect x="72.42" y="221" width="7.08" height="1" fill="#ebbabe"/><rect x="78.90" y="221" width="7.08" height="1" fill="#d2d2eb"/><rect x="85.38" y="221" width="7.08" height="1" fill="#d3d3ec"/><rect x="91.87" y="221" width="7.08" height="1" fill="#d3d3ec"/><rect x="98.35" y="221" width="7.08" height="1" fill="#d6d6ee"/><rect x="104.83" y="221" width="7.08" height="1" fill="#dadaef"/><rect x="111.32" y="221" width="6.48" height="1" fill="#d4d4ed"/><rect x="40.00" y="222" width="7.08" height="2" fill="#e1b6c1"/><rect x="46.48" y="222" width="7.08" height="2" fill="#e0b3be"/><rect x="52.97" y="222" width="7.08" height="2" fill="#e1b5c0"/><rect x="59.45" y="222" width="7.08" height="2" fill="#e6a7ab"/><rect x="65.93" y="222" width="7.08" height="2" fill="#e6a8ad"/><rect x="72.42" y="222" width="7.08" height="2" fill="#e6a8ac"/><rect x="78.90" y="222" width="7.08" height="2" fill="#cacae8"/><rect x="85.38" y="222" width="7.08" height="2" fill="#c9cae8"/><rect x="91.87" y="222" width="7.08" height="2" fill="#c8c9e8"/><rect x="98.35" y="222" width="7.08" height="2" fill="#a9acdf"/><rect x="104.83" y="222" width="7.08" height="2" fill="#a8acdf"/><rect x="111.32" y="222" width="6.48" height="2" fill="#aaaedf"/><rect x="40.00" y="224" width="7.08" height="2" fill="#f1dfe4"/><rect x="46.48" y="224" width="7.08" height="2" fill="#f1dfe4"/><rect x="52.97" y="224" width="7.08" height="2" fill="#f0dee3"/><rect x="59.45" y="224" width="7.08" height="2" fill="#edc3c7"/><rect x="65.93" y="224" width="7.08" height="2" fill="#edc4c8"/><rect x="72.42" y="224" width="7.08" height="2" fill="#edc4c8"/><rect x="78.90" y="224" width="7.08" height="2" fill="#e5e4f2"/><rect x="85.38" y="224" width="7.08" height="2" fill="#e6e5f2"/><rect x="91.87" y="224" width="7.08" height="2" fill="#e4e3f2"/><rect x="98.35" y="224" width="7.08" height="2" fill="#e4e3f3"/><rect x="104.83" y="224" width="7.08" height="2" fill="#e7e6f4"/><rect x="111.32" y="224" width="6.48" height="2" fill="#e4e4f3"/><rect x="40.00" y="226" width="7.08" height="1" fill="#ebd0d7"/><rect x="46.48" y="226" width="7.08" height="1" fill="#e9cad2"/><rect x="52.97" y="226" width="7.08" height="1" fill="#eaced5"/><rect x="59.45" y="226" width="7.08" height="1" fill="#eec8cc"/><rect x="65.93" y="226" width="7.08" height="1" fill="#eec9cc"/><rect x="72.42" y="226" width="7.08" height="1" fill="#efcace"/><rect x="78.90" y="226" width="7.08" height="1" fill="#d0d0ea"/><rect x="85.38" y="226" width="7.08" height="1" fill="#ceceea"/><rect x="91.87" y="226" width="7.08" height="1" fill="#cecfea"/><rect x="98.35" y="226" width="7.08" height="1" fill="#b6b9e3"/><rect x="104.83" y="226" width="7.08" height="1" fill="#b7bae4"/><rect x="111.32" y="226" width="6.48" height="1" fill="#b8bae4"/><rect x="40.00" y="227" width="7.08" height="2" fill="#ebd0d7"/><rect x="46.48" y="227" width="7.08" height="2" fill="#ebd0d7"/><rect x="52.97" y="227" width="7.08" height="2" fill="#eaced5"/><rect x="59.45" y="227" width="7.08" height="2" fill="#e7adb2"/><rect x="65.93" y="227" width="7.08" height="2" fill="#e7adb1"/><rect x="72.42" y="227" width="7.08" height="2" fill="#e6a9ad"/><rect x="78.90" y="227" width="7.08" height="2" fill="#d5d5ec"/><rect x="85.38" y="227" width="7.08" height="2" fill="#cfd0ea"/><rect x="91.87" y="227" width="7.08" height="2" fill="#d3d3ec"/><rect x="98.35" y="227" width="7.08" height="2" fill="#b7b9e4"/><rect x="104.83" y="227" width="7.08" height="2" fill="#babce5"/><rect x="111.32" y="227" width="6.48" height="2" fill="#b5b7e3"/><rect x="40.00" y="229" width="7.08" height="2" fill="#ebcfd6"/><rect x="46.48" y="229" width="7.08" height="2" fill="#ebd0d7"/><rect x="52.97" y="229" width="7.08" height="2" fill="#ebcfd6"/><rect x="59.45" y="229" width="7.08" height="2" fill="#f1d3d6"/><rect x="65.93" y="229" width="7.08" height="2" fill="#f2d7da"/><rect x="72.42" y="229" width="7.08" height="2" fill="#f1d2d5"/><rect x="78.90" y="229" width="7.08" height="2" fill="#e0dff0"/><rect x="85.38" y="229" width="7.08" height="2" fill="#dcdcef"/><rect x="91.87" y="229" width="7.08" height="2" fill="#e0dff0"/><rect x="98.35" y="229" width="7.08" height="2" fill="#bec0e6"/><rect x="104.83" y="229" width="7.08" height="2" fill="#c3c4e8"/><rect x="111.32" y="229" width="6.48" height="2" fill="#bdbfe6"/><rect x="40.00" y="231" width="7.08" height="2" fill="#abaedd"/><rect x="46.48" y="231" width="7.08" height="2" fill="#afb2df"/><rect x="52.97" y="231" width="7.08" height="2" fill="#abafdd"/><rect x="59.45" y="231" width="7.08" height="2" fill="#c0c4eb"/><rect x="65.93" y="231" width="7.08" height="2" fill="#c2c6eb"/><rect x="72.42" y="231" width="7.08" height="2" fill="#c1c6eb"/><rect x="78.90" y="231" width="7.08" height="2" fill="#eab2b2"/><rect x="85.38" y="231" width="7.08" height="2" fill="#eab2b1"/><rect x="91.87" y="231" width="7.08" height="2" fill="#eab1b1"/><rect x="98.35" y="231" width="7.08" height="2" fill="#ebbdbf"/><rect x="104.83" y="231" width="7.08" height="2" fill="#eababc"/><rect x="111.32" y="231" width="6.48" height="2" fill="#ebbbbd"/><rect x="40.00" y="233" width="7.08" height="3" fill="#a6a9db"/><rect x="46.48" y="233" width="7.08" height="3" fill="#a8abdc"/><rect x="52.97" y="233" width="7.08" height="3" fill="#a2a6da"/><rect x="59.45" y="233" width="7.08" height="3" fill="#c8cbed"/><rect x="65.93" y="233" width="7.08" height="3" fill="#c6caec"/><rect x="72.42" y="233" width="7.08" height="3" fill="#c7cbed"/><rect x="78.90" y="233" width="7.08" height="3" fill="#f0cdce"/><rect x="85.38" y="233" width="7.08" height="3" fill="#f0cccc"/><rect x="91.87" y="233" width="7.08" height="3" fill="#f1d1d1"/><rect x="98.35" y="233" width="7.08" height="3" fill="#ebbdbf"/><rect x="104.83" y="233" width="7.08" height="3" fill="#ecc0c2"/><rect x="111.32" y="233" width="6.48" height="3" fill="#ecbfc1"/><rect x="40.00" y="236" width="7.08" height="2" fill="#999ed7"/><rect x="46.48" y="236" width="7.08" height="2" fill="#9499d5"/><rect x="52.97" y="236" width="7.08" height="2" fill="#999ed7"/><rect x="59.45" y="236" width="7.08" height="2" fill="#c5c8ec"/><rect x="65.93" y="236" width="7.08" height="2" fill="#c3c7ec"/><rect x="72.42" y="236" width="7.08" height="2" fill="#c5c9ec"/><rect x="78.90" y="236" width="7.08" height="2" fill="#ebb3b3"/><rect x="85.38" y="236" width="7.08" height="2" fill="#eab1b1"/><rect x="91.87" y="236" width="7.08" height="2" fill="#ebb4b4"/><rect x="98.35" y="236" width="7.08" height="2" fill="#e39b9d"/><rect x="104.83" y="236" width="7.08" height="2" fill="#e49fa1"/><rect x="111.32" y="236" width="6.48" height="2" fill="#e29a9c"/><rect x="40.00" y="238" width="7.08" height="1" fill="#a8acdc"/><rect x="46.48" y="238" width="7.08" height="1" fill="#aaaddd"/><rect x="52.97" y="238" width="7.08" height="1" fill="#adb0de"/><rect x="59.45" y="238" width="7.08" height="1" fill="#c2c6eb"/><rect x="65.93" y="238" width="7.08" height="1" fill="#c2c6eb"/><rect x="72.42" y="238" width="7.08" height="1" fill="#c1c6eb"/><rect x="78.90" y="238" width="7.08" height="1" fill="#ecb9b9"/><rect x="85.38" y="238" width="7.08" height="1" fill="#ecbbbb"/><rect x="91.87" y="238" width="7.08" height="1" fill="#ecb9b8"/><rect x="98.35" y="238" width="7.08" height="1" fill="#ebbdbf"/><rect x="104.83" y="238" width="7.08" height="1" fill="#ebbabc"/><rect x="111.32" y="238" width="6.48" height="1" fill="#ebbcbe"/><rect x="40.00" y="239" width="7.08" height="2" fill="#b8bbe2"/><rect x="46.48" y="239" width="7.08" height="2" fill="#babce3"/><rect x="52.97" y="239" width="7.08" height="2" fill="#b7bae2"/><rect x="59.45" y="239" width="7.08" height="2" fill="#dadbf2"/><rect x="65.93" y="239" width="7.08" height="2" fill="#d7d9f1"/><rect x="72.42" y="239" width="7.08" height="2" fill="#d8daf1"/><rect x="78.90" y="239" width="7.08" height="2" fill="#f1d2d3"/><rect x="85.38" y="239" width="7.08" height="2" fill="#f2d3d4"/><rect x="91.87" y="239" width="7.08" height="2" fill="#f1d1d1"/><rect x="98.35" y="239" width="7.08" height="2" fill="#e9b5b7"/><rect x="104.83" y="239" width="7.08" height="2" fill="#ebbcbe"/><rect x="111.32" y="239" width="6.48" height="2" fill="#e9b5b7"/><rect x="40.00" y="241" width="7.08" height="3" fill="#9ca0d8"/><rect x="46.48" y="241" width="7.08" height="3" fill="#9b9fd7"/><rect x="52.97" y="241" width="7.08" height="3" fill="#a0a4d9"/><rect x="59.45" y="241" width="7.08" height="3" fill="#cccfee"/><rect x="65.93" y="241" width="7.08" height="3" fill="#cbceee"/><rect x="72.42" y="241" width="7.08" height="3" fill="#cbceee"/><rect x="78.90" y="241" width="7.08" height="3" fill="#e8a9a8"/><rect x="85.38" y="241" width="7.08" height="3" fill="#e8a9a8"/><rect x="91.87" y="241" width="7.08" height="3" fill="#e8a8a8"/><rect x="98.35" y="241" width="7.08" height="3" fill="#e29799"/><rect x="104.83" y="241" width="7.08" height="3" fill="#e19496"/><rect x="111.32" y="241" width="6.48" height="3" fill="#e19496"/><rect x="40.00" y="244" width="7.08" height="2" fill="#9ea2d8"/><rect x="46.48" y="244" width="7.08" height="2" fill="#999ed7"/><rect x="52.97" y="244" width="7.08" height="2" fill="#9a9ed7"/><rect x="59.45" y="244" width="7.08" height="2" fill="#cdd0ee"/><rect x="65.93" y="244" width="7.08" height="2" fill="#cccfee"/><rect x="72.42" y="244" width="7.08" height="2" fill="#cccfee"/><rect x="78.90" y="244" width="7.08" height="2" fill="#eab1b0"/><rect x="85.38" y="244" width="7.08" height="2" fill="#eab3b3"/><rect x="91.87" y="244" width="7.08" height="2" fill="#e9afae"/><rect x="98.35" y="244" width="7.08" height="2" fill="#ecc1c3"/><rect x="104.83" y="244" width="7.08" height="2" fill="#ebbec0"/><rect x="111.32" y="244" width="6.48" height="2" fill="#ecc1c3"/><rect x="40.00" y="246" width="7.08" height="1" fill="#7e85cd"/><rect x="46.48" y="246" width="7.08" height="1" fill="#7f85cd"/><rect x="52.97" y="246" width="7.08" height="1" fill="#7e85cd"/><rect x="59.45" y="246" width="7.08" height="1" fill="#c0c4eb"/><rect x="65.93" y="246" width="7.08" height="1" fill="#c4c8ec"/><rect x="72.42" y="246" width="7.08" height="1" fill="#c1c5eb"/><rect x="78.90" y="246" width="7.08" height="1" fill="#e8a7a6"/><rect x="85.38" y="246" width="7.08" height="1" fill="#e7a5a4"/><rect x="91.87" y="246" width="7.08" height="1" fill="#e7a5a4"/><rect x="98.35" y="246" width="7.08" height="1" fill="#e29799"/><rect x="104.83" y="246" width="7.08" height="1" fill="#e2989a"/><rect x="111.32" y="246" width="6.48" height="1" fill="#e2989a"/><rect x="40.00" y="247" width="7.08" height="2" fill="#8b91d2"/><rect x="46.48" y="247" width="7.08" height="2" fill="#8f94d3"/><rect x="52.97" y="247" width="7.08" height="2" fill="#888ed1"/><rect x="59.45" y="247" width="7.08" height="2" fill="#ced1ef"/><rect x="65.93" y="247" width="7.08" height="2" fill="#ced1ee"/><rect x="72.42" y="247" width="7.08" height="2" fill="#d0d2ef"/><rect x="78.90" y="247" width="7.08" height="2" fill="#edbdbd"/><rect x="85.38" y="247" width="7.08" height="2" fill="#edbebf"/><rect x="91.87" y="247" width="7.08" height="2" fill="#edbcbc"/><rect x="98.35" y="247" width="7.08" height="2" fill="#eab8ba"/><rect x="104.83" y="247" width="7.08" height="2" fill="#e9b4b6"/><rect x="111.32" y="247" width="6.48" height="2" fill="#eab8ba"/><rect x="40.00" y="249" width="7.08" height="2" fill="#969bd6"/><rect x="46.48" y="249" width="7.08" height="2" fill="#999ed7"/><rect x="52.97" y="249" width="7.08" height="2" fill="#9499d5"/><rect x="59.45" y="249" width="7.08" height="2" fill="#d2d4f0"/><rect x="65.93" y="249" width="7.08" height="2" fill="#d2d4f0"/><rect x="72.42" y="249" width="7.08" height="2" fill="#ced1ee"/><rect x="78.90" y="249" width="7.08" height="2" fill="#ecbbbb"/><rect x="85.38" y="249" width="7.08" height="2" fill="#ecb8b8"/><rect x="91.87" y="249" width="7.08" height="2" fill="#ecbaba"/><rect x="98.35" y="249" width="7.08" height="2" fill="#e29a9c"/><rect x="104.83" y="249" width="7.08" height="2" fill="#e29799"/><rect x="111.32" y="249" width="6.48" height="2" fill="#e39a9c"/><rect x="40.00" y="251" width="7.08" height="1" fill="#979cd6"/><rect x="46.48" y="251" width="7.08" height="1" fill="#9a9ed7"/><rect x="52.97" y="251" width="7.08" height="1" fill="#959ad5"/><rect x="59.45" y="251" width="7.08" height="1" fill="#c1c5eb"/><rect x="65.93" y="251" width="7.08" height="1" fill="#bdc1ea"/><rect x="72.42" y="251" width="7.08" height="1" fill="#bdc1ea"/><rect x="78.90" y="251" width="7.08" height="1" fill="#e8a8a7"/><rect x="85.38" y="251" width="7.08" height="1" fill="#e9acac"/><rect x="91.87" y="251" width="7.08" height="1" fill="#e9adad"/><rect x="98.35" y="251" width="7.08" height="1" fill="#e19597"/><rect x="104.83" y="251" width="7.08" height="1" fill="#e39c9e"/><rect x="111.32" y="251" width="6.48" height="1" fill="#e39b9d"/><rect x="40.00" y="252" width="7.08" height="1" fill="#a3a7da"/><rect x="46.48" y="252" width="7.08" height="1" fill="#9fa3d9"/><rect x="52.97" y="252" width="7.08" height="1" fill="#9fa3d9"/><rect x="59.45" y="252" width="7.08" height="1" fill="#d9dbf1"/><rect x="65.93" y="252" width="7.08" height="1" fill="#dedff3"/><rect x="72.42" y="252" width="7.08" height="1" fill="#dadcf2"/><rect x="78.90" y="252" width="7.08" height="1" fill="#edbfbf"/><rect x="85.38" y="252" width="7.08" height="1" fill="#eec1c1"/><rect x="91.87" y="252" width="7.08" height="1" fill="#edbebe"/><rect x="98.35" y="252" width="7.08" height="1" fill="#e8aeb0"/><rect x="104.83" y="252" width="7.08" height="1" fill="#e8b0b2"/><rect x="111.32" y="252" width="6.48" height="1" fill="#e7acae"/><rect x="40.00" y="253" width="7.08" height="3" fill="#a8abdc"/><rect x="46.48" y="253" width="7.08" height="3" fill="#a4a8db"/><rect x="52.97" y="253" width="7.08" height="3" fill="#a6aadc"/><rect x="59.45" y="253" width="7.08" height="3" fill="#c3c7ec"/><rect x="65.93" y="253" width="7.08" height="3" fill="#c3c7ec"/><rect x="72.42" y="253" width="7.08" height="3" fill="#c4c8ec"/><rect x="78.90" y="253" width="7.08" height="3" fill="#ebb8b8"/><rect x="85.38" y="253" width="7.08" height="3" fill="#ecbcbc"/><rect x="91.87" y="253" width="7.08" height="3" fill="#edbdbd"/><rect x="98.35" y="253" width="7.08" height="3" fill="#e8b0b2"/><rect x="104.83" y="253" width="7.08" height="3" fill="#e7adaf"/><rect x="111.32" y="253" width="6.48" height="3" fill="#e7acae"/><rect x="40.00" y="256" width="7.08" height="2" fill="#7e85cd"/><rect x="46.48" y="256" width="7.08" height="2" fill="#7980cb"/><rect x="52.97" y="256" width="7.08" height="2" fill="#7b81cc"/><rect x="59.45" y="256" width="7.08" height="2" fill="#bbc0ea"/><rect x="65.93" y="256" width="7.08" height="2" fill="#bbc0ea"/><rect x="72.42" y="256" width="7.08" height="2" fill="#bcc1ea"/><rect x="78.90" y="256" width="7.08" height="2" fill="#eab1b1"/><rect x="85.38" y="256" width="7.08" height="2" fill="#ebb7b7"/><rect x="91.87" y="256" width="7.08" height="2" fill="#eab3b3"/><rect x="98.35" y="256" width="7.08" height="2" fill="#e39d9f"/><rect x="104.83" y="256" width="7.08" height="2" fill="#e39c9e"/><rect x="111.32" y="256" width="6.48" height="2" fill="#e2989a"/><rect x="40.00" y="258" width="7.08" height="1" fill="#acafde"/><rect x="46.48" y="258" width="7.08" height="1" fill="#acafde"/><rect x="52.97" y="258" width="7.08" height="1" fill="#b0b3df"/><rect x="59.45" y="258" width="7.08" height="1" fill="#d5d7f0"/><rect x="65.93" y="258" width="7.08" height="1" fill="#d3d5f0"/><rect x="72.42" y="258" width="7.08" height="1" fill="#d6d8f1"/><rect x="78.90" y="258" width="7.08" height="1" fill="#eec1c1"/><rect x="85.38" y="258" width="7.08" height="1" fill="#efc6c6"/><rect x="91.87" y="258" width="7.08" height="1" fill="#eec2c2"/><rect x="98.35" y="258" width="7.08" height="1" fill="#eec8ca"/><rect x="104.83" y="258" width="7.08" height="1" fill="#edc4c6"/><rect x="111.32" y="258" width="6.48" height="1" fill="#ecc1c3"/><rect x="40.00" y="259" width="7.08" height="2" fill="#a8abdc"/><rect x="46.48" y="259" width="7.08" height="2" fill="#a2a6da"/><rect x="52.97" y="259" width="7.08" height="2" fill="#a2a6da"/><rect x="59.45" y="259" width="7.08" height="2" fill="#c7caed"/><rect x="65.93" y="259" width="7.08" height="2" fill="#c5c9ec"/><rect x="72.42" y="259" width="7.08" height="2" fill="#c8cbed"/><rect x="78.90" y="259" width="7.08" height="2" fill="#e69e9d"/><rect x="85.38" y="259" width="7.08" height="2" fill="#e69e9d"/><rect x="91.87" y="259" width="7.08" height="2" fill="#e69f9e"/><rect x="98.35" y="259" width="7.08" height="2" fill="#e6a6a8"/><rect x="104.83" y="259" width="7.08" height="2" fill="#e7aaac"/><rect x="111.32" y="259" width="6.48" height="2" fill="#e6a9ab"/><rect x="40.00" y="261" width="7.08" height="2" fill="#878cd0"/><rect x="46.48" y="261" width="7.08" height="2" fill="#8b90d2"/><rect x="52.97" y="261" width="7.08" height="2" fill="#878dd0"/><rect x="59.45" y="261" width="7.08" height="2" fill="#caceee"/><rect x="65.93" y="261" width="7.08" height="2" fill="#caceee"/><rect x="72.42" y="261" width="7.08" height="2" fill="#cbceee"/><rect x="78.90" y="261" width="7.08" height="2" fill="#eab0b0"/><rect x="85.38" y="261" width="7.08" height="2" fill="#ebb5b4"/><rect x="91.87" y="261" width="7.08" height="2" fill="#eab3b3"/><rect x="98.35" y="261" width="7.08" height="2" fill="#eab7b9"/><rect x="104.83" y="261" width="7.08" height="2" fill="#eababc"/><rect x="111.32" y="261" width="6.48" height="2" fill="#eab9bb"/><rect x="40.00" y="263" width="7.08" height="2" fill="#aeb1de"/><rect x="46.48" y="263" width="7.08" height="2" fill="#aeb1de"/><rect x="52.97" y="263" width="7.08" height="2" fill="#b0b4df"/><rect x="59.45" y="263" width="7.08" height="2" fill="#ced1ef"/><rect x="65.93" y="263" width="7.08" height="2" fill="#cbceee"/><rect x="72.42" y="263" width="7.08" height="2" fill="#cdd0ee"/><rect x="78.90" y="263" width="7.08" height="2" fill="#edbdbd"/><rect x="85.38" y="263" width="7.08" height="2" fill="#eec2c2"/><rect x="91.87" y="263" width="7.08" height="2" fill="#edbdbd"/><rect x="98.35" y="263" width="7.08" height="2" fill="#e5a5a7"/><rect x="104.83" y="263" width="7.08" height="2" fill="#e6a6a8"/><rect x="111.32" y="263" width="6.48" height="2" fill="#e7acae"/><rect x="40.00" y="265" width="7.08" height="2" fill="#aeb2df"/><rect x="46.48" y="265" width="7.08" height="2" fill="#b3b6e0"/><rect x="52.97" y="265" width="7.08" height="2" fill="#b4b6e0"/><rect x="59.45" y="265" width="7.08" height="2" fill="#d9dbf1"/><rect x="65.93" y="265" width="7.08" height="2" fill="#dbddf2"/><rect x="72.42" y="265" width="7.08" height="2" fill="#dbdcf2"/><rect x="78.90" y="265" width="7.08" height="2" fill="#eab2b2"/><rect x="85.38" y="265" width="7.08" height="2" fill="#eab2b2"/><rect x="91.87" y="265" width="7.08" height="2" fill="#e9aead"/><rect x="98.35" y="265" width="7.08" height="2" fill="#ebbabc"/><rect x="104.83" y="265" width="7.08" height="2" fill="#eab8ba"/><rect x="111.32" y="265" width="6.48" height="2" fill="#e9b5b7"/><rect x="40.00" y="267" width="7.08" height="3" fill="#b8bae2"/><rect x="46.48" y="267" width="7.08" height="3" fill="#b2b5e0"/><rect x="52.97" y="267" width="7.08" height="3" fill="#b6b9e1"/><rect x="59.45" y="267" width="7.08" height="3" fill="#cccfee"/><rect x="65.93" y="267" width="7.08" height="3" fill="#cccfee"/><rect x="72.42" y="267" width="7.08" height="3" fill="#cccfee"/><rect x="78.90" y="267" width="7.08" height="3" fill="#efc7c8"/><rect x="85.38" y="267" width="7.08" height="3" fill="#efc7c7"/><rect x="91.87" y="267" width="7.08" height="3" fill="#efc7c7"/><rect x="98.35" y="267" width="7.08" height="3" fill="#e9b4b6"/><rect x="104.83" y="267" width="7.08" height="3" fill="#e9b5b7"/><rect x="111.32" y="267" width="6.48" height="3" fill="#eab6b8"/><rect x="40.00" y="270" width="7.08" height="3" fill="#999ed7"/><rect x="46.48" y="270" width="7.08" height="3" fill="#a0a4d9"/><rect x="52.97" y="270" width="7.08" height="3" fill="#9ea3d9"/><rect x="59.45" y="270" width="7.08" height="3" fill="#cccfee"/><rect x="65.93" y="270" width="7.08" height="3" fill="#cfd2ef"/><rect x="72.42" y="270" width="7.08" height="3" fill="#cccfee"/><rect x="78.90" y="270" width="7.08" height="3" fill="#ebb6b6"/><rect x="85.38" y="270" width="7.08" height="3" fill="#ebb6b6"/><rect x="91.87" y="270" width="7.08" height="3" fill="#ecb8b8"/><rect x="98.35" y="270" width="7.08" height="3" fill="#e8b0b2"/><rect x="104.83" y="270" width="7.08" height="3" fill="#e6a9ab"/><rect x="111.32" y="270" width="6.48" height="3" fill="#e7adaf"/><rect x="40.00" y="273" width="7.08" height="1" fill="#b2b5e0"/><rect x="46.48" y="273" width="7.08" height="1" fill="#b5b8e1"/><rect x="52.97" y="273" width="7.08" height="1" fill="#b6b9e1"/><rect x="59.45" y="273" width="7.08" height="1" fill="#ced1ef"/><rect x="65.93" y="273" width="7.08" height="1" fill="#cdd0ee"/><rect x="72.42" y="273" width="7.08" height="1" fill="#cfd2ef"/><rect x="78.90" y="273" width="7.08" height="1" fill="#efc7c8"/><rect x="85.38" y="273" width="7.08" height="1" fill="#efc6c7"/><rect x="91.87" y="273" width="7.08" height="1" fill="#efc7c7"/><rect x="98.35" y="273" width="7.08" height="1" fill="#ebbabc"/><rect x="104.83" y="273" width="7.08" height="1" fill="#ebbcbe"/><rect x="111.32" y="273" width="6.48" height="1" fill="#e9b4b6"/><rect x="40.00" y="274" width="7.08" height="2" fill="#9da1d8"/><rect x="46.48" y="274" width="7.08" height="2" fill="#999dd7"/><rect x="52.97" y="274" width="7.08" height="2" fill="#9ba0d7"/><rect x="59.45" y="274" width="7.08" height="2" fill="#c5c9ec"/><rect x="65.93" y="274" width="7.08" height="2" fill="#c5c8ec"/><rect x="72.42" y="274" width="7.08" height="2" fill="#c4c8ec"/><rect x="78.90" y="274" width="7.08" height="2" fill="#ecbcbc"/><rect x="85.38" y="274" width="7.08" height="2" fill="#ecb9b9"/><rect x="91.87" y="274" width="7.08" height="2" fill="#edbebe"/><rect x="98.35" y="274" width="7.08" height="2" fill="#e8b2b4"/><rect x="104.83" y="274" width="7.08" height="2" fill="#e9b5b7"/><rect x="111.32" y="274" width="6.48" height="2" fill="#e9b5b7"/><rect x="40.00" y="276" width="7.08" height="2" fill="#b3b6e0"/><rect x="46.48" y="276" width="7.08" height="2" fill="#acb0de"/><rect x="52.97" y="276" width="7.08" height="2" fill="#abaedd"/><rect x="59.45" y="276" width="7.08" height="2" fill="#c3c7ec"/><rect x="65.93" y="276" width="7.08" height="2" fill="#c1c5eb"/><rect x="72.42" y="276" width="7.08" height="2" fill="#c4c7ec"/><rect x="78.90" y="276" width="7.08" height="2" fill="#e8a6a6"/><rect x="85.38" y="276" width="7.08" height="2" fill="#e9abaa"/><rect x="91.87" y="276" width="7.08" height="2" fill="#e8a7a7"/><rect x="98.35" y="276" width="7.08" height="2" fill="#e7aaac"/><rect x="104.83" y="276" width="7.08" height="2" fill="#e7aaac"/><rect x="111.32" y="276" width="6.48" height="2" fill="#e6a8aa"/><rect x="40.00" y="278" width="7.08" height="1" fill="#9da1d8"/><rect x="46.48" y="278" width="7.08" height="1" fill="#9a9ed7"/><rect x="52.97" y="278" width="7.08" height="1" fill="#959ad5"/><rect x="59.45" y="278" width="7.08" height="1" fill="#cdd0ee"/><rect x="65.93" y="278" width="7.08" height="1" fill="#cdd0ee"/><rect x="72.42" y="278" width="7.08" height="1" fill="#cfd2ef"/><rect x="78.90" y="278" width="7.08" height="1" fill="#efc7c7"/><rect x="85.38" y="278" width="7.08" height="1" fill="#efc8c8"/><rect x="91.87" y="278" width="7.08" height="1" fill="#efc5c6"/><rect x="98.35" y="278" width="7.08" height="1" fill="#e9b4b6"/><rect x="104.83" y="278" width="7.08" height="1" fill="#ebbabc"/><rect x="111.32" y="278" width="6.48" height="1" fill="#e9b4b6"/><rect x="40.00" y="279" width="7.08" height="3" fill="#999ed7"/><rect x="46.48" y="279" width="7.08" height="3" fill="#9a9fd7"/><rect x="52.97" y="279" width="7.08" height="3" fill="#9ba0d8"/><rect x="59.45" y="279" width="7.08" height="3" fill="#caceee"/><rect x="65.93" y="279" width="7.08" height="3" fill="#c9cded"/><rect x="72.42" y="279" width="7.08" height="3" fill="#cccfee"/><rect x="78.90" y="279" width="7.08" height="3" fill="#eaafaf"/><rect x="85.38" y="279" width="7.08" height="3" fill="#e9aead"/><rect x="91.87" y="279" width="7.08" height="3" fill="#e9afae"/><rect x="98.35" y="279" width="7.08" height="3" fill="#e7adaf"/><rect x="104.83" y="279" width="7.08" height="3" fill="#e8b1b3"/><rect x="111.32" y="279" width="6.48" height="3" fill="#e9b3b5"/><rect x="40.00" y="282" width="7.08" height="3" fill="#9ea2d9"/><rect x="46.48" y="282" width="7.08" height="3" fill="#a5a9db"/><rect x="52.97" y="282" width="7.08" height="3" fill="#a4a8db"/><rect x="59.45" y="282" width="7.08" height="3" fill="#c9cced"/><rect x="65.93" y="282" width="7.08" height="3" fill="#cacded"/><rect x="72.42" y="282" width="7.08" height="3" fill="#cdd0ee"/><rect x="78.90" y="282" width="7.08" height="3" fill="#efc9c9"/><rect x="85.38" y="282" width="7.08" height="3" fill="#f0cbcb"/><rect x="91.87" y="282" width="7.08" height="3" fill="#efc7c7"/><rect x="98.35" y="282" width="7.08" height="3" fill="#e7abad"/><rect x="104.83" y="282" width="7.08" height="3" fill="#e7acae"/><rect x="111.32" y="282" width="6.48" height="3" fill="#e6a7a9"/><rect x="40.00" y="285" width="7.08" height="1" fill="#9ea2d8"/><rect x="46.48" y="285" width="7.08" height="1" fill="#a2a6da"/><rect x="52.97" y="285" width="7.08" height="1" fill="#9fa4d9"/><rect x="59.45" y="285" width="7.08" height="1" fill="#c5c8ec"/><rect x="65.93" y="285" width="7.08" height="1" fill="#c4c8ec"/><rect x="72.42" y="285" width="7.08" height="1" fill="#c3c7ec"/><rect x="78.90" y="285" width="7.08" height="1" fill="#f3dadb"/><rect x="85.38" y="285" width="7.08" height="1" fill="#f3d8d9"/><rect x="91.87" y="285" width="7.08" height="1" fill="#f3dadb"/><rect x="98.35" y="285" width="7.08" height="1" fill="#e8afb1"/><rect x="104.83" y="285" width="7.08" height="1" fill="#e8b2b4"/><rect x="111.32" y="285" width="6.48" height="1" fill="#e8afb1"/><rect x="40.00" y="286" width="7.08" height="2" fill="#b7b9e2"/><rect x="46.48" y="286" width="7.08" height="2" fill="#b7b9e2"/><rect x="52.97" y="286" width="7.08" height="2" fill="#b6b9e1"/><rect x="59.45" y="286" width="7.08" height="2" fill="#cfd2ef"/><rect x="65.93" y="286" width="7.08" height="2" fill="#cdd0ee"/><rect x="72.42" y="286" width="7.08" height="2" fill="#d0d2ef"/><rect x="78.90" y="286" width="7.08" height="2" fill="#e9aead"/><rect x="85.38" y="286" width="7.08" height="2" fill="#e9abab"/><rect x="91.87" y="286" width="7.08" height="2" fill="#e9aead"/><rect x="98.35" y="286" width="7.08" height="2" fill="#e9b5b7"/><rect x="104.83" y="286" width="7.08" height="2" fill="#e8b0b2"/><rect x="111.32" y="286" width="6.48" height="2" fill="#e8b2b4"/><rect x="40.00" y="288" width="7.08" height="2" fill="#8b91d2"/><rect x="46.48" y="288" width="7.08" height="2" fill="#868cd0"/><rect x="52.97" y="288" width="7.08" height="2" fill="#8c91d2"/><rect x="59.45" y="288" width="7.08" height="2" fill="#c7cbed"/><rect x="65.93" y="288" width="7.08" height="2" fill="#c7caed"/><rect x="72.42" y="288" width="7.08" height="2" fill="#c6caec"/><rect x="78.90" y="288" width="7.08" height="2" fill="#eec4c4"/><rect x="85.38" y="288" width="7.08" height="2" fill="#f0caca"/><rect x="91.87" y="288" width="7.08" height="2" fill="#efc8c8"/><rect x="98.35" y="288" width="7.08" height="2" fill="#e5a3a5"/><rect x="104.83" y="288" width="7.08" height="2" fill="#e6a8aa"/><rect x="111.32" y="288" width="6.48" height="2" fill="#e6aaac"/><rect x="40.00" y="290" width="7.08" height="2" fill="#979cd6"/><rect x="46.48" y="290" width="7.08" height="2" fill="#959ad5"/><rect x="52.97" y="290" width="7.08" height="2" fill="#9a9fd7"/><rect x="59.45" y="290" width="7.08" height="2" fill="#c4c8ec"/><rect x="65.93" y="290" width="7.08" height="2" fill="#c1c5eb"/><rect x="72.42" y="290" width="7.08" height="2" fill="#c6caec"/><rect x="78.90" y="290" width="7.08" height="2" fill="#e8a8a8"/><rect x="85.38" y="290" width="7.08" height="2" fill="#e9acac"/><rect x="91.87" y="290" width="7.08" height="2" fill="#e9acac"/><rect x="98.35" y="290" width="7.08" height="2" fill="#ebbcbe"/><rect x="104.83" y="290" width="7.08" height="2" fill="#ebbdbf"/><rect x="111.32" y="290" width="6.48" height="2" fill="#ecbfc1"/><rect x="40.00" y="292" width="7.08" height="1" fill="#b1b4e0"/><rect x="46.48" y="292" width="7.08" height="1" fill="#afb2df"/><rect x="52.97" y="292" width="7.08" height="1" fill="#b0b3df"/><rect x="59.45" y="292" width="7.08" height="1" fill="#cbceee"/><rect x="65.93" y="292" width="7.08" height="1" fill="#ced1ee"/><rect x="72.42" y="292" width="7.08" height="1" fill="#cacded"/><rect x="78.90" y="292" width="7.08" height="1" fill="#efc7c8"/><rect x="85.38" y="292" width="7.08" height="1" fill="#eec5c5"/><rect x="91.87" y="292" width="7.08" height="1" fill="#eec3c4"/><rect x="98.35" y="292" width="7.08" height="1" fill="#e8aeb0"/><rect x="104.83" y="292" width="7.08" height="1" fill="#e8afb1"/><rect x="111.32" y="292" width="6.48" height="1" fill="#e7aeb0"/><rect x="40.00" y="293" width="7.08" height="1" fill="#a6aadc"/><rect x="46.48" y="293" width="7.08" height="1" fill="#a1a5da"/><rect x="52.97" y="293" width="7.08" height="1" fill="#a8acdc"/><rect x="59.45" y="293" width="7.08" height="1" fill="#d2d5f0"/><rect x="65.93" y="293" width="7.08" height="1" fill="#d5d7f0"/><rect x="72.42" y="293" width="7.08" height="1" fill="#d4d6f0"/><rect x="78.90" y="293" width="7.08" height="1" fill="#e8a8a8"/><rect x="85.38" y="293" width="7.08" height="1" fill="#e7a5a5"/><rect x="91.87" y="293" width="7.08" height="1" fill="#e8aaaa"/><rect x="98.35" y="293" width="7.08" height="1" fill="#f1d5d7"/><rect x="104.83" y="293" width="7.08" height="1" fill="#f2d6d8"/><rect x="111.32" y="293" width="6.48" height="1" fill="#f1d5d7"/><rect x="40.00" y="294" width="7.08" height="2" fill="#b9bbe2"/><rect x="46.48" y="294" width="7.08" height="2" fill="#c0c2e5"/><rect x="52.97" y="294" width="7.08" height="2" fill="#b9bbe2"/><rect x="59.45" y="294" width="7.08" height="2" fill="#d4d6f0"/><rect x="65.93" y="294" width="7.08" height="2" fill="#d3d5f0"/><rect x="72.42" y="294" width="7.08" height="2" fill="#d0d3ef"/><rect x="78.90" y="294" width="7.08" height="2" fill="#ebb8b7"/><rect x="85.38" y="294" width="7.08" height="2" fill="#ecb8b8"/><rect x="91.87" y="294" width="7.08" height="2" fill="#ecbbbb"/><rect x="98.35" y="294" width="7.08" height="2" fill="#e6a9ab"/><rect x="104.83" y="294" width="7.08" height="2" fill="#e6aaac"/><rect x="111.32" y="294" width="6.48" height="2" fill="#e6a9ab"/><rect x="40.00" y="296" width="7.08" height="1" fill="#bec0e4"/><rect x="46.48" y="296" width="7.08" height="1" fill="#bfc1e5"/><rect x="52.97" y="296" width="7.08" height="1" fill="#bfc1e4"/><rect x="59.45" y="296" width="7.08" height="1" fill="#d9dbf1"/><rect x="65.93" y="296" width="7.08" height="1" fill="#dedff3"/><rect x="72.42" y="296" width="7.08" height="1" fill="#dcddf2"/><rect x="78.90" y="296" width="7.08" height="1" fill="#ecb9b9"/><rect x="85.38" y="296" width="7.08" height="1" fill="#ebb7b7"/><rect x="91.87" y="296" width="7.08" height="1" fill="#ecbaba"/><rect x="98.35" y="296" width="7.08" height="1" fill="#e7aeb0"/><rect x="104.83" y="296" width="7.08" height="1" fill="#e6aaac"/><rect x="111.32" y="296" width="6.48" height="1" fill="#e8b0b2"/><rect x="40.00" y="297" width="7.08" height="3" fill="#d76d76"/><rect x="46.48" y="297" width="7.08" height="3" fill="#d76c75"/><rect x="52.97" y="297" width="7.08" height="3" fill="#d86e77"/><rect x="59.45" y="297" width="7.08" height="3" fill="#f0c6c8"/><rect x="65.93" y="297" width="7.08" height="3" fill="#efc4c6"/><rect x="72.42" y="297" width="7.08" height="3" fill="#f0c6c8"/><rect x="78.90" y="297" width="7.08" height="3" fill="#9095d3"/><rect x="85.38" y="297" width="7.08" height="3" fill="#9599d5"/><rect x="91.87" y="297" width="7.08" height="3" fill="#9196d3"/><rect x="98.35" y="297" width="7.08" height="3" fill="#8e93d1"/><rect x="104.83" y="297" width="7.08" height="3" fill="#8f93d2"/><rect x="111.32" y="297" width="6.48" height="3" fill="#8e93d1"/><rect x="40.00" y="300" width="7.08" height="1" fill="#db7d85"/><rect x="46.48" y="300" width="7.08" height="1" fill="#db7b83"/><rect x="52.97" y="300" width="7.08" height="1" fill="#db7d86"/><rect x="59.45" y="300" width="7.08" height="1" fill="#f3d6d8"/><rect x="65.93" y="300" width="7.08" height="1" fill="#f3d7d9"/><rect x="72.42" y="300" width="7.08" height="1" fill="#f3d6d8"/><rect x="78.90" y="300" width="7.08" height="1" fill="#b0b3df"/><rect x="85.38" y="300" width="7.08" height="1" fill="#b0b3df"/><rect x="91.87" y="300" width="7.08" height="1" fill="#afb2de"/><rect x="98.35" y="300" width="7.08" height="1" fill="#9095d2"/><rect x="104.83" y="300" width="7.08" height="1" fill="#979bd5"/><rect x="111.32" y="300" width="6.48" height="1" fill="#8c91d1"/><rect x="40.00" y="301" width="7.08" height="2" fill="#d86f78"/><rect x="46.48" y="301" width="7.08" height="2" fill="#d87078"/><rect x="52.97" y="301" width="7.08" height="2" fill="#d76e77"/><rect x="59.45" y="301" width="7.08" height="2" fill="#f3d5d7"/><rect x="65.93" y="301" width="7.08" height="2" fill="#f4d9db"/><rect x="72.42" y="301" width="7.08" height="2" fill="#f4d9db"/><rect x="78.90" y="301" width="7.08" height="2" fill="#999ed6"/><rect x="85.38" y="301" width="7.08" height="2" fill="#9ca0d7"/><rect x="91.87" y="301" width="7.08" height="2" fill="#9a9ed6"/><rect x="98.35" y="301" width="7.08" height="2" fill="#a6a9da"/><rect x="104.83" y="301" width="7.08" height="2" fill="#9da1d7"/><rect x="111.32" y="301" width="6.48" height="2" fill="#a9acdb"/><rect x="40.00" y="303" width="7.08" height="2" fill="#ebbbc0"/><rect x="46.48" y="303" width="7.08" height="2" fill="#e8b1b7"/><rect x="52.97" y="303" width="7.08" height="2" fill="#eab6bc"/><rect x="59.45" y="303" width="7.08" height="2" fill="#f2cfd1"/><rect x="65.93" y="303" width="7.08" height="2" fill="#f2d2d4"/><rect x="72.42" y="303" width="7.08" height="2" fill="#f1cfd1"/><rect x="78.90" y="303" width="7.08" height="2" fill="#b2b4df"/><rect x="85.38" y="303" width="7.08" height="2" fill="#b7bae1"/><rect x="91.87" y="303" width="7.08" height="2" fill="#b8bae2"/><rect x="98.35" y="303" width="7.08" height="2" fill="#aaaddc"/><rect x="104.83" y="303" width="7.08" height="2" fill="#b2b5df"/><rect x="111.32" y="303" width="6.48" height="2" fill="#a8abdb"/><rect x="40.00" y="305" width="7.08" height="2" fill="#e1939a"/><rect x="46.48" y="305" width="7.08" height="2" fill="#df8c93"/><rect x="52.97" y="305" width="7.08" height="2" fill="#de878f"/><rect x="59.45" y="305" width="7.08" height="2" fill="#efc2c4"/><rect x="65.93" y="305" width="7.08" height="2" fill="#eebfc1"/><rect x="72.42" y="305" width="7.08" height="2" fill="#efc3c5"/><rect x="78.90" y="305" width="7.08" height="2" fill="#a9addc"/><rect x="85.38" y="305" width="7.08" height="2" fill="#abaedd"/><rect x="91.87" y="305" width="7.08" height="2" fill="#abafdd"/><rect x="98.35" y="305" width="7.08" height="2" fill="#a4a7da"/><rect x="104.83" y="305" width="7.08" height="2" fill="#acaedd"/><rect x="111.32" y="305" width="6.48" height="2" fill="#a6aadb"/><rect x="40.00" y="307" width="7.08" height="3" fill="#da767f"/><rect x="46.48" y="307" width="7.08" height="3" fill="#d9737c"/><rect x="52.97" y="307" width="7.08" height="3" fill="#d8717a"/><rect x="59.45" y="307" width="7.08" height="3" fill="#eebfc1"/><rect x="65.93" y="307" width="7.08" height="3" fill="#eec0c2"/><rect x="72.42" y="307" width="7.08" height="3" fill="#eebec0"/><rect x="78.90" y="307" width="7.08" height="3" fill="#a4a8da"/><rect x="85.38" y="307" width="7.08" height="3" fill="#a6a9db"/><rect x="91.87" y="307" width="7.08" height="3" fill="#a7aadb"/><rect x="98.35" y="307" width="7.08" height="3" fill="#7f85cc"/><rect x="104.83" y="307" width="7.08" height="3" fill="#8388cd"/><rect x="111.32" y="307" width="6.48" height="3" fill="#8187cd"/><rect x="40.00" y="310" width="7.08" height="3" fill="#dd858d"/><rect x="46.48" y="310" width="7.08" height="3" fill="#dc8189"/><rect x="52.97" y="310" width="7.08" height="3" fill="#dc8088"/><rect x="59.45" y="310" width="7.08" height="3" fill="#f1cbcd"/><rect x="65.93" y="310" width="7.08" height="3" fill="#f0cacc"/><rect x="72.42" y="310" width="7.08" height="3" fill="#f1cbcd"/><rect x="78.90" y="310" width="7.08" height="3" fill="#b0b3df"/><rect x="85.38" y="310" width="7.08" height="3" fill="#b2b5df"/><rect x="91.87" y="310" width="7.08" height="3" fill="#a8acdc"/><rect x="98.35" y="310" width="7.08" height="3" fill="#989cd5"/><rect x="104.83" y="310" width="7.08" height="3" fill="#999ed6"/><rect x="111.32" y="310" width="6.48" height="3" fill="#989cd5"/><rect x="40.00" y="313" width="7.08" height="2" fill="#de888f"/><rect x="46.48" y="313" width="7.08" height="2" fill="#dd828a"/><rect x="52.97" y="313" width="7.08" height="2" fill="#df8d94"/><rect x="59.45" y="313" width="7.08" height="2" fill="#f1cbcd"/><rect x="65.93" y="313" width="7.08" height="2" fill="#f1ced0"/><rect x="72.42" y="313" width="7.08" height="2" fill="#f1cbcd"/><rect x="78.90" y="313" width="7.08" height="2" fill="#a8abdc"/><rect x="85.38" y="313" width="7.08" height="2" fill="#a6a9db"/><rect x="91.87" y="313" width="7.08" height="2" fill="#a7abdb"/><rect x="98.35" y="313" width="7.08" height="2" fill="#8a8fd0"/><rect x="104.83" y="313" width="7.08" height="2" fill="#8a8fd0"/><rect x="111.32" y="313" width="6.48" height="2" fill="#8a8fd0"/><rect x="40.00" y="315" width="7.08" height="3" fill="#ce4651"/><rect x="46.48" y="315" width="7.08" height="3" fill="#d04e59"/><rect x="52.97" y="315" width="7.08" height="3" fill="#d0525c"/><rect x="59.45" y="315" width="7.08" height="3" fill="#ecb4b6"/><rect x="65.93" y="315" width="7.08" height="3" fill="#ecb5b7"/><rect x="72.42" y="315" width="7.08" height="3" fill="#ecb5b7"/><rect x="78.90" y="315" width="7.08" height="3" fill="#6d74c6"/><rect x="85.38" y="315" width="7.08" height="3" fill="#6c73c6"/><rect x="91.87" y="315" width="7.08" height="3" fill="#7279c8"/><rect x="98.35" y="315" width="7.08" height="3" fill="#7379c7"/><rect x="104.83" y="315" width="7.08" height="3" fill="#6f76c6"/><rect x="111.32" y="315" width="6.48" height="3" fill="#7077c6"/><rect x="40.00" y="318" width="7.08" height="1" fill="#de8a91"/><rect x="46.48" y="318" width="7.08" height="1" fill="#de878f"/><rect x="52.97" y="318" width="7.08" height="1" fill="#dd838b"/><rect x="59.45" y="318" width="7.08" height="1" fill="#efc4c6"/><rect x="65.93" y="318" width="7.08" height="1" fill="#efc1c3"/><rect x="72.42" y="318" width="7.08" height="1" fill="#efc1c3"/><rect x="78.90" y="318" width="7.08" height="1" fill="#b5b7e0"/><rect x="85.38" y="318" width="7.08" height="1" fill="#b3b6e0"/><rect x="91.87" y="318" width="7.08" height="1" fill="#b0b3df"/><rect x="98.35" y="318" width="7.08" height="1" fill="#bdbfe3"/><rect x="104.83" y="318" width="7.08" height="1" fill="#bec0e3"/><rect x="111.32" y="318" width="6.48" height="1" fill="#bbbde3"/><rect x="40.00" y="319" width="7.08" height="1" fill="#d9757e"/><rect x="46.48" y="319" width="7.08" height="1" fill="#d9737c"/><rect x="52.97" y="319" width="7.08" height="1" fill="#d87078"/><rect x="59.45" y="319" width="7.08" height="1" fill="#ecb6b8"/><rect x="65.93" y="319" width="7.08" height="1" fill="#ecb4b6"/><rect x="72.42" y="319" width="7.08" height="1" fill="#edb8ba"/><rect x="78.90" y="319" width="7.08" height="1" fill="#a8abdc"/><rect x="85.38" y="319" width="7.08" height="1" fill="#a2a5d9"/><rect x="91.87" y="319" width="7.08" height="1" fill="#9da1d8"/><rect x="98.35" y="319" width="7.08" height="1" fill="#747bc8"/><rect x="104.83" y="319" width="7.08" height="1" fill="#7d83cb"/><rect x="111.32" y="319" width="6.48" height="1" fill="#7e84cc"/><rect x="40.00" y="320" width="7.08" height="2" fill="#e39ea4"/><rect x="46.48" y="320" width="7.08" height="2" fill="#e39ca3"/><rect x="52.97" y="320" width="7.08" height="2" fill="#e39ea4"/><rect x="59.45" y="320" width="7.08" height="2" fill="#f3d7d9"/><rect x="65.93" y="320" width="7.08" height="2" fill="#f3d8da"/><rect x="72.42" y="320" width="7.08" height="2" fill="#f3d7d9"/><rect x="78.90" y="320" width="7.08" height="2" fill="#c6c7e7"/><rect x="85.38" y="320" width="7.08" height="2" fill="#c4c6e6"/><rect x="91.87" y="320" width="7.08" height="2" fill="#bec0e4"/><rect x="98.35" y="320" width="7.08" height="2" fill="#a8abdb"/><rect x="104.83" y="320" width="7.08" height="2" fill="#a9acdc"/><rect x="111.32" y="320" width="6.48" height="2" fill="#a8abdb"/><rect x="40.00" y="322" width="7.08" height="1" fill="#df8b93"/><rect x="46.48" y="322" width="7.08" height="1" fill="#de8990"/><rect x="52.97" y="322" width="7.08" height="1" fill="#de8a91"/><rect x="59.45" y="322" width="7.08" height="1" fill="#efc4c6"/><rect x="65.93" y="322" width="7.08" height="1" fill="#efc2c4"/><rect x="72.42" y="322" width="7.08" height="1" fill="#efc3c5"/><rect x="78.90" y="322" width="7.08" height="1" fill="#9095d3"/><rect x="85.38" y="322" width="7.08" height="1" fill="#979cd5"/><rect x="91.87" y="322" width="7.08" height="1" fill="#9196d3"/><rect x="98.35" y="322" width="7.08" height="1" fill="#a1a4d9"/><rect x="104.83" y="322" width="7.08" height="1" fill="#9a9ed6"/><rect x="111.32" y="322" width="6.48" height="1" fill="#9ca0d7"/><rect x="40.00" y="323" width="7.08" height="1" fill="#d6666f"/><rect x="46.48" y="323" width="7.08" height="1" fill="#d76d76"/><rect x="52.97" y="323" width="7.08" height="1" fill="#d66a73"/><rect x="59.45" y="323" width="7.08" height="1" fill="#f0c7c9"/><rect x="65.93" y="323" width="7.08" height="1" fill="#f0c8ca"/><rect x="72.42" y="323" width="7.08" height="1" fill="#f0c7c9"/><rect x="78.90" y="323" width="7.08" height="1" fill="#9a9ed6"/><rect x="85.38" y="323" width="7.08" height="1" fill="#989dd6"/><rect x="91.87" y="323" width="7.08" height="1" fill="#979bd5"/><rect x="98.35" y="323" width="7.08" height="1" fill="#868bce"/><rect x="104.83" y="323" width="7.08" height="1" fill="#868bcf"/><rect x="111.32" y="323" width="6.48" height="1" fill="#848ace"/><rect x="40.00" y="324" width="7.08" height="1" fill="#db7d85"/><rect x="46.48" y="324" width="7.08" height="1" fill="#dd858d"/><rect x="52.97" y="324" width="7.08" height="1" fill="#da7a82"/><rect x="59.45" y="324" width="7.08" height="1" fill="#f1cfd1"/><rect x="65.93" y="324" width="7.08" height="1" fill="#f0cacc"/><rect x="72.42" y="324" width="7.08" height="1" fill="#f1cfd1"/><rect x="78.90" y="324" width="7.08" height="1" fill="#9fa3d8"/><rect x="85.38" y="324" width="7.08" height="1" fill="#9a9fd7"/><rect x="91.87" y="324" width="7.08" height="1" fill="#999dd6"/><rect x="98.35" y="324" width="7.08" height="1" fill="#9fa2d8"/><rect x="104.83" y="324" width="7.08" height="1" fill="#9ca0d7"/><rect x="111.32" y="324" width="6.48" height="1" fill="#9ea2d7"/><rect x="40.00" y="325" width="7.08" height="2" fill="#d76c75"/><rect x="46.48" y="325" width="7.08" height="2" fill="#d87079"/><rect x="52.97" y="325" width="7.08" height="2" fill="#d76b74"/><rect x="59.45" y="325" width="7.08" height="2" fill="#efc4c6"/><rect x="65.93" y="325" width="7.08" height="2" fill="#efc4c6"/><rect x="72.42" y="325" width="7.08" height="2" fill="#efc5c7"/><rect x="78.90" y="325" width="7.08" height="2" fill="#9da1d8"/><rect x="85.38" y="325" width="7.08" height="2" fill="#9ea2d8"/><rect x="91.87" y="325" width="7.08" height="2" fill="#9ea2d8"/><rect x="98.35" y="325" width="7.08" height="2" fill="#8f94d2"/><rect x="104.83" y="325" width="7.08" height="2" fill="#8c91d1"/><rect x="111.32" y="325" width="6.48" height="2" fill="#888dcf"/><rect x="40.00" y="327" width="7.08" height="2" fill="#d5646e"/><rect x="46.48" y="327" width="7.08" height="2" fill="#d35e68"/><rect x="52.97" y="327" width="7.08" height="2" fill="#d66770"/><rect x="59.45" y="327" width="7.08" height="2" fill="#efc3c5"/><rect x="65.93" y="327" width="7.08" height="2" fill="#efc5c7"/><rect x="72.42" y="327" width="7.08" height="2" fill="#efc5c7"/><rect x="78.90" y="327" width="7.08" height="2" fill="#7b81cb"/><rect x="85.38" y="327" width="7.08" height="2" fill="#7980ca"/><rect x="91.87" y="327" width="7.08" height="2" fill="#797fca"/><rect x="98.35" y="327" width="7.08" height="2" fill="#8e92d1"/><rect x="104.83" y="327" width="7.08" height="2" fill="#8e93d2"/><rect x="111.32" y="327" width="6.48" height="2" fill="#8d92d1"/><rect x="40.00" y="329" width="7.08" height="2" fill="#d86e77"/><rect x="46.48" y="329" width="7.08" height="2" fill="#d87078"/><rect x="52.97" y="329" width="7.08" height="2" fill="#d9767e"/><rect x="59.45" y="329" width="7.08" height="2" fill="#efc4c6"/><rect x="65.93" y="329" width="7.08" height="2" fill="#eec0c2"/><rect x="72.42" y="329" width="7.08" height="2" fill="#efc2c4"/><rect x="78.90" y="329" width="7.08" height="2" fill="#8e93d2"/><rect x="85.38" y="329" width="7.08" height="2" fill="#8d92d2"/><rect x="91.87" y="329" width="7.08" height="2" fill="#9196d3"/><rect x="98.35" y="329" width="7.08" height="2" fill="#9195d2"/><rect x="104.83" y="329" width="7.08" height="2" fill="#9195d2"/><rect x="111.32" y="329" width="6.48" height="2" fill="#9397d3"/><rect x="40.00" y="331" width="7.08" height="2" fill="#e39ba2"/><rect x="46.48" y="331" width="7.08" height="2" fill="#e39ba1"/><rect x="52.97" y="331" width="7.08" height="2" fill="#e39da3"/><rect x="59.45" y="331" width="7.08" height="2" fill="#f3d8da"/><rect x="65.93" y="331" width="7.08" height="2" fill="#f3d8da"/><rect x="72.42" y="331" width="7.08" height="2" fill="#f3d8da"/><rect x="78.90" y="331" width="7.08" height="2" fill="#b1b4df"/><rect x="85.38" y="331" width="7.08" height="2" fill="#adb0de"/><rect x="91.87" y="331" width="7.08" height="2" fill="#a7aadb"/><rect x="98.35" y="331" width="7.08" height="2" fill="#bdbfe3"/><rect x="104.83" y="331" width="7.08" height="2" fill="#b9bbe2"/><rect x="111.32" y="331" width="6.48" height="2" fill="#bcbee3"/><rect x="40.00" y="333" width="7.08" height="2" fill="#e39ca3"/><rect x="46.48" y="333" width="7.08" height="2" fill="#e1949b"/><rect x="52.97" y="333" width="7.08" height="2" fill="#e39da3"/><rect x="59.45" y="333" width="7.08" height="2" fill="#efc3c5"/><rect x="65.93" y="333" width="7.08" height="2" fill="#eebfc1"/><rect x="72.42" y="333" width="7.08" height="2" fill="#eebdbf"/><rect x="78.90" y="333" width="7.08" height="2" fill="#9499d4"/><rect x="85.38" y="333" width="7.08" height="2" fill="#9499d4"/><rect x="91.87" y="333" width="7.08" height="2" fill="#8f94d2"/><rect x="98.35" y="333" width="7.08" height="2" fill="#9b9fd6"/><rect x="104.83" y="333" width="7.08" height="2" fill="#9095d2"/><rect x="111.32" y="333" width="6.48" height="2" fill="#999dd6"/><rect x="40.00" y="335" width="7.08" height="1" fill="#e7adb3"/><rect x="46.48" y="335" width="7.08" height="1" fill="#e9b2b8"/><rect x="52.97" y="335" width="7.08" height="1" fill="#e8b0b5"/><rect x="59.45" y="335" width="7.08" height="1" fill="#f2d4d6"/><rect x="65.93" y="335" width="7.08" height="1" fill="#f2d1d3"/><rect x="72.42" y="335" width="7.08" height="1" fill="#f2cfd1"/><rect x="78.90" y="335" width="7.08" height="1" fill="#d7d8ed"/><rect x="85.38" y="335" width="7.08" height="1" fill="#d6d7ed"/><rect x="91.87" y="335" width="7.08" height="1" fill="#dadaee"/><rect x="98.35" y="335" width="7.08" height="1" fill="#9b9fd6"/><rect x="104.83" y="335" width="7.08" height="1" fill="#9ea2d8"/><rect x="111.32" y="335" width="6.48" height="1" fill="#9ea2d8"/></g><rect x="120.3" y="57" width="11.9" height="66" fill="#7a859e"/><rect x="120.3" y="123" width="11.9" height="108" fill="#a0c640"/><rect x="120.3" y="231" width="11.9" height="66" fill="#e8c430"/><rect x="120.3" y="297" width="11.9" height="39" fill="#7c3a2a"/><rect x="20.2" y="57" width="1.3" height="278.7" fill="#000"/><text font-size="8" transform="translate(14.7,145.6) rotate(-90)" text-anchor="middle">Primed Effects</text><text font-size="8" transform="translate(14.6,277.4) rotate(-90)" text-anchor="middle">Induced Effects</text><rect x="23.3" y="57" width="14.80" height="19.70" fill="#000"/><text x="30.70" y="69.05" font-size="6.3" fill="#fff" text-anchor="middle">30%</text><rect x="23.4" y="122.6" width="14.70" height="37.00" fill="#000"/><text x="30.75" y="143.30" font-size="6.3" fill="#fff" text-anchor="middle">35%</text><rect x="23.8" y="229.9" width="14.10" height="15.90" fill="#000"/><text x="30.85" y="240.05" font-size="6.3" fill="#fff" text-anchor="middle">24%</text><rect x="23.3" y="296.5" width="14.80" height="7.30" fill="#000"/><text x="30.70" y="302.35" font-size="6.3" fill="#fff" text-anchor="middle">20%</text><text font-size="6.8" y="347.4" text-anchor="middle"><tspan x="49">A</tspan><tspan x="69.4">W</tspan><tspan x="89">A</tspan><tspan x="109">W</tspan></text><rect x="40" y="349.8" width="76.9" height="1" fill="#000"/><text font-size="8.4" y="359.6" text-anchor="middle"><tspan x="59.3">IL-15</tspan><tspan x="100.3">IL-2</tspan></text><text x="217" y="40.60" font-size="8.9" text-anchor="middle">IL-15-primed down</text><rect x="182.4" y="46.70" width="1" height="54.50" fill="#111"/><rect x="182.4" y="100.70" width="68.90" height="1" fill="#111"/><rect x="180.6" y="48.20" width="2" height="1" fill="#111"/><text x="177.2" y="51.00" font-size="7" text-anchor="end">1.0</text><rect x="180.6" y="60.70" width="2" height="1" fill="#111"/><text x="177.2" y="63.50" font-size="7" text-anchor="end">0.5</text><rect x="180.6" y="73.20" width="2" height="1" fill="#111"/><text x="177.2" y="76.00" font-size="7" text-anchor="end">0.0</text><rect x="180.6" y="85.70" width="2" height="1" fill="#111"/><text x="177.2" y="88.50" font-size="7" text-anchor="end">−0.5</text><rect x="180.6" y="98.20" width="2" height="1" fill="#111"/><text x="177.2" y="101.00" font-size="7" text-anchor="end">−1.0</text><rect x="194.10" y="101.20" width="1" height="3" fill="#111"/><rect x="209.90" y="101.20" width="1" height="3" fill="#111"/><rect x="225.30" y="101.20" width="1" height="3" fill="#111"/><rect x="240.30" y="101.20" width="1" height="3" fill="#111"/><line x1="194.6" x2="194.6" y1="69.60" y2="80.80" stroke="#6c7591" stroke-width="1.05"/><circle cx="194.6" cy="75.20" r="2.25" fill="#6c7591"/><line x1="210.4" x2="210.4" y1="81.10" y2="86.30" stroke="#6c7591" stroke-width="1.05"/><circle cx="210.4" cy="83.70" r="2.25" fill="#6c7591"/><line x1="225.8" x2="225.8" y1="65.55" y2="75.35" stroke="#6c7591" stroke-width="1.05"/><circle cx="225.8" cy="70.45" r="2.25" fill="#6c7591"/><line x1="240.8" x2="240.8" y1="62.85" y2="68.05" stroke="#6c7591" stroke-width="1.05"/><circle cx="240.8" cy="65.45" r="2.25" fill="#6c7591"/><text x="217" y="118.35" font-size="8.9" text-anchor="middle">IL-15-primed up</text><rect x="182.4" y="124.45" width="1" height="54.50" fill="#111"/><rect x="182.4" y="178.45" width="68.90" height="1" fill="#111"/><rect x="180.6" y="125.95" width="2" height="1" fill="#111"/><text x="177.2" y="128.75" font-size="7" text-anchor="end">1.0</text><rect x="180.6" y="138.45" width="2" height="1" fill="#111"/><text x="177.2" y="141.25" font-size="7" text-anchor="end">0.5</text><rect x="180.6" y="150.95" width="2" height="1" fill="#111"/><text x="177.2" y="153.75" font-size="7" text-anchor="end">0.0</text><rect x="180.6" y="163.45" width="2" height="1" fill="#111"/><text x="177.2" y="166.25" font-size="7" text-anchor="end">−0.5</text><rect x="180.6" y="175.95" width="2" height="1" fill="#111"/><text x="177.2" y="178.75" font-size="7" text-anchor="end">−1.0</text><rect x="194.10" y="178.95" width="1" height="3" fill="#111"/><rect x="209.90" y="178.95" width="1" height="3" fill="#111"/><rect x="225.30" y="178.95" width="1" height="3" fill="#111"/><rect x="240.30" y="178.95" width="1" height="3" fill="#111"/><line x1="194.6" x2="194.6" y1="141.30" y2="153.10" stroke="#8ea43a" stroke-width="1.05"/><circle cx="194.6" cy="147.20" r="2.25" fill="#8ea43a"/><line x1="210.4" x2="210.4" y1="138.20" y2="144.20" stroke="#8ea43a" stroke-width="1.05"/><circle cx="210.4" cy="141.20" r="2.25" fill="#8ea43a"/><line x1="225.8" x2="225.8" y1="153.10" y2="159.30" stroke="#8ea43a" stroke-width="1.05"/><circle cx="225.8" cy="156.20" r="2.25" fill="#8ea43a"/><line x1="240.8" x2="240.8" y1="158.20" y2="163.20" stroke="#8ea43a" stroke-width="1.05"/><circle cx="240.8" cy="160.70" r="2.25" fill="#8ea43a"/><text x="217" y="196.10" font-size="8.9" text-anchor="middle">IL-15-induced down</text><rect x="182.4" y="202.20" width="1" height="54.50" fill="#111"/><rect x="182.4" y="256.20" width="68.90" height="1" fill="#111"/><rect x="180.6" y="203.70" width="2" height="1" fill="#111"/><text x="177.2" y="206.50" font-size="7" text-anchor="end">1.0</text><rect x="180.6" y="216.20" width="2" height="1" fill="#111"/><text x="177.2" y="219.00" font-size="7" text-anchor="end">0.5</text><rect x="180.6" y="228.70" width="2" height="1" fill="#111"/><text x="177.2" y="231.50" font-size="7" text-anchor="end">0.0</text><rect x="180.6" y="241.20" width="2" height="1" fill="#111"/><text x="177.2" y="244.00" font-size="7" text-anchor="end">−0.5</text><rect x="180.6" y="253.70" width="2" height="1" fill="#111"/><text x="177.2" y="256.50" font-size="7" text-anchor="end">−1.0</text><rect x="194.10" y="256.70" width="1" height="3" fill="#111"/><rect x="209.90" y="256.70" width="1" height="3" fill="#111"/><rect x="225.30" y="256.70" width="1" height="3" fill="#111"/><rect x="240.30" y="256.70" width="1" height="3" fill="#111"/><line x1="194.6" x2="194.6" y1="237.60" y2="248.80" stroke="#d2b824" stroke-width="1.05"/><circle cx="194.6" cy="243.20" r="2.25" fill="#d2b824"/><line x1="210.4" x2="210.4" y1="234.25" y2="240.65" stroke="#d2b824" stroke-width="1.05"/><circle cx="210.4" cy="237.45" r="2.25" fill="#d2b824"/><line x1="225.8" x2="225.8" y1="215.20" y2="224.20" stroke="#d2b824" stroke-width="1.05"/><circle cx="225.8" cy="219.70" r="2.25" fill="#d2b824"/><line x1="240.8" x2="240.8" y1="213.80" y2="219.60" stroke="#d2b824" stroke-width="1.05"/><circle cx="240.8" cy="216.70" r="2.25" fill="#d2b824"/><text x="217" y="273.85" font-size="8.9" text-anchor="middle">IL-15-induced up</text><rect x="182.4" y="279.95" width="1" height="54.50" fill="#111"/><rect x="182.4" y="333.95" width="68.90" height="1" fill="#111"/><rect x="180.6" y="281.45" width="2" height="1" fill="#111"/><text x="177.2" y="284.25" font-size="7" text-anchor="end">1.0</text><rect x="180.6" y="293.95" width="2" height="1" fill="#111"/><text x="177.2" y="296.75" font-size="7" text-anchor="end">0.5</text><rect x="180.6" y="306.45" width="2" height="1" fill="#111"/><text x="177.2" y="309.25" font-size="7" text-anchor="end">0.0</text><rect x="180.6" y="318.95" width="2" height="1" fill="#111"/><text x="177.2" y="321.75" font-size="7" text-anchor="end">−0.5</text><rect x="180.6" y="331.45" width="2" height="1" fill="#111"/><text x="177.2" y="334.25" font-size="7" text-anchor="end">−1.0</text><rect x="194.10" y="334.45" width="1" height="3" fill="#111"/><rect x="209.90" y="334.45" width="1" height="3" fill="#111"/><rect x="225.30" y="334.45" width="1" height="3" fill="#111"/><rect x="240.30" y="334.45" width="1" height="3" fill="#111"/><line x1="194.6" x2="194.6" y1="278.90" y2="293.50" stroke="#6a3022" stroke-width="1.05"/><circle cx="194.6" cy="286.20" r="2.25" fill="#6a3022"/><line x1="210.4" x2="210.4" y1="286.85" y2="305.05" stroke="#6a3022" stroke-width="1.05"/><circle cx="210.4" cy="295.95" r="2.25" fill="#6a3022"/><line x1="225.8" x2="225.8" y1="314.65" y2="329.25" stroke="#6a3022" stroke-width="1.05"/><circle cx="225.8" cy="321.95" r="2.25" fill="#6a3022"/><line x1="240.8" x2="240.8" y1="316.55" y2="330.35" stroke="#6a3022" stroke-width="1.05"/><circle cx="240.8" cy="323.45" r="2.25" fill="#6a3022"/><text font-size="7.9" transform="translate(157.6,190.1) rotate(-90)" text-anchor="middle">Per cluster mean expression (polysome-associated RNA log2)</text><text font-size="6.4" y="346.5" text-anchor="middle"><tspan x="195">A</tspan><tspan x="210.3">W</tspan><tspan x="225.7">A</tspan><tspan x="241.4">W</tspan></text><rect x="191" y="349.2" width="24" height="1" fill="#000"/><rect x="221.6" y="349.2" width="24.9" height="1" fill="#000"/><text font-size="8.5" y="359.7" text-anchor="middle"><tspan x="203.1">IL-15</tspan><tspan x="233.3">IL-2</tspan></text><text x="272.7" y="17.4" font-size="11.4" font-weight="bold">B</text><text font-size="8.75" transform="translate(281.40,63.9) rotate(-45)">IL-15-primed down</text><text font-size="8.75" transform="translate(298.15,63.9) rotate(-45)">IL-15-primed up</text><text font-size="8.75" transform="translate(314.90,63.9) rotate(-45)">IL-15-induced down</text><text font-size="8.75" transform="translate(331.65,63.9) rotate(-45)">IL-15-induced up</text><rect x="272.20" y="69.5" width="16.8" height="14" fill="#7a859e"/><rect x="288.95" y="69.5" width="16.8" height="14" fill="#a0c640"/><rect x="305.70" y="69.5" width="16.8" height="14" fill="#e8c430"/><rect x="322.45" y="69.5" width="16.8" height="14" fill="#7c3a2a"/><rect x="451.3" y="10.5" width="45" height="9.8" fill="url(#gB)" stroke="#111" stroke-width="1"/><line x1="451.30" y1="20.3" x2="451.30" y2="25.3" stroke="#111" stroke-width="1"/><line x1="462.55" y1="20.3" x2="462.55" y2="25.3" stroke="#111" stroke-width="1"/><line x1="473.80" y1="20.3" x2="473.80" y2="25.3" stroke="#111" stroke-width="1"/><line x1="485.05" y1="20.3" x2="485.05" y2="25.3" stroke="#111" stroke-width="1"/><line x1="496.30" y1="20.3" x2="496.30" y2="25.3" stroke="#111" stroke-width="1"/><text font-size="7.6" y="34.6" text-anchor="middle"><tspan x="451.8">0</tspan><tspan x="474.2">2</tspan><tspan x="496.3">4</tspan></text><text font-size="8.6" x="451.8" y="44.4">-log10FDR</text><rect x="288.95" y="88.00" width="16.8" height="6.31" fill="#0000f2"/><rect x="322.45" y="88.00" width="16.8" height="5.71" fill="#f6f6fc"/><rect x="288.95" y="93.71" width="16.8" height="6.31" fill="#0000f0"/><rect x="288.95" y="99.42" width="16.8" height="6.31" fill="#0a0aee"/><rect x="322.45" y="99.42" width="16.8" height="5.71" fill="#d8d8f5"/><rect x="288.95" y="105.13" width="16.8" height="6.31" fill="#1616ec"/><rect x="288.95" y="110.84" width="16.8" height="6.31" fill="#2222ee"/><rect x="288.95" y="116.55" width="16.8" height="6.31" fill="#2a2aee"/><rect x="288.95" y="122.26" width="16.8" height="6.31" fill="#3030ee"/><rect x="288.95" y="127.97" width="16.8" height="6.31" fill="#3838ec"/><rect x="322.45" y="127.97" width="16.8" height="5.71" fill="#ececf8"/><rect x="288.95" y="133.68" width="16.8" height="5.71" fill="#4040ea"/><rect x="272.20" y="139.39" width="16.8" height="6.31" fill="#6e6ef0"/><rect x="272.20" y="145.10" width="16.8" height="6.31" fill="#7070f0"/><rect x="272.20" y="150.81" width="16.8" height="6.31" fill="#6a6af0"/><rect x="305.70" y="150.81" width="16.8" height="5.71" fill="#e4e4f8"/><rect x="272.20" y="156.52" width="16.8" height="6.31" fill="#6868ee"/><rect x="272.20" y="162.23" width="16.8" height="6.31" fill="#6c6cf0"/><rect x="272.20" y="167.94" width="16.8" height="6.31" fill="#7070f0"/><rect x="305.70" y="167.94" width="16.8" height="6.31" fill="#c8c8f0"/><rect x="272.20" y="173.65" width="16.8" height="6.31" fill="#6262ee"/><rect x="305.70" y="173.65" width="16.8" height="6.31" fill="#c8c8f0"/><rect x="272.20" y="179.36" width="16.8" height="6.31" fill="#6464ee"/><rect x="305.70" y="179.36" width="16.8" height="6.31" fill="#c8c8f0"/><rect x="272.20" y="185.07" width="16.8" height="6.31" fill="#4c4ce8"/><rect x="305.70" y="185.07" width="16.8" height="6.31" fill="#c8c8f0"/><rect x="322.45" y="185.07" width="16.8" height="5.71" fill="#dcdcf8"/><rect x="272.20" y="190.78" width="16.8" height="6.31" fill="#4c4ce8"/><rect x="305.70" y="190.78" width="16.8" height="6.31" fill="#d0d0f0"/><rect x="272.20" y="196.49" width="16.8" height="5.71" fill="#5858ec"/><rect x="305.70" y="196.49" width="16.8" height="6.31" fill="#8080e8"/><rect x="305.70" y="202.20" width="16.8" height="6.31" fill="#5858ee"/><rect x="305.70" y="207.91" width="16.8" height="6.31" fill="#5858ee"/><rect x="305.70" y="213.62" width="16.8" height="6.31" fill="#5858ee"/><rect x="305.70" y="219.33" width="16.8" height="6.31" fill="#5858ee"/><rect x="305.70" y="225.04" width="16.8" height="6.31" fill="#4848e8"/><rect x="272.20" y="230.75" width="16.8" height="6.31" fill="#c0c0f4"/><rect x="305.70" y="230.75" width="16.8" height="6.31" fill="#5050f0"/><rect x="272.20" y="236.46" width="16.8" height="5.71" fill="#c0c0f4"/><rect x="305.70" y="236.46" width="16.8" height="6.31" fill="#5050f0"/><rect x="305.70" y="242.17" width="16.8" height="6.31" fill="#2000d8"/><rect x="305.70" y="247.88" width="16.8" height="6.31" fill="#2000d8"/><rect x="272.20" y="253.59" width="16.8" height="6.31" fill="#e2e2f8"/><rect x="305.70" y="253.59" width="16.8" height="5.71" fill="#2020e8"/><rect x="272.20" y="259.30" width="16.8" height="5.71" fill="#e2e2f8"/><rect x="288.95" y="259.30" width="16.8" height="6.31" fill="#e6e6f8"/><rect x="322.45" y="259.30" width="16.8" height="6.31" fill="#0000e0"/><rect x="288.95" y="265.01" width="16.8" height="6.31" fill="#e6e6f8"/><rect x="305.70" y="265.01" width="16.8" height="5.71" fill="#e2e2f8"/><rect x="322.45" y="265.01" width="16.8" height="6.31" fill="#0a0ae4"/><rect x="288.95" y="270.72" width="16.8" height="5.71" fill="#e6e6f8"/><rect x="322.45" y="270.72" width="16.8" height="6.31" fill="#1414e6"/><rect x="322.45" y="276.43" width="16.8" height="6.31" fill="#1818e8"/><rect x="322.45" y="282.14" width="16.8" height="6.31" fill="#2020e8"/><rect x="305.70" y="287.85" width="16.8" height="5.71" fill="#a0a0ec"/><rect x="322.45" y="287.85" width="16.8" height="6.31" fill="#2020e8"/><rect x="322.45" y="293.56" width="16.8" height="6.31" fill="#6060ee"/><rect x="322.45" y="299.27" width="16.8" height="6.31" fill="#6060ee"/><rect x="272.20" y="304.98" width="16.8" height="5.71" fill="#e8e8f8"/><rect x="305.70" y="304.98" width="16.8" height="5.71" fill="#ececfa"/><rect x="322.45" y="304.98" width="16.8" height="6.31" fill="#5c5cf0"/><rect x="288.95" y="310.69" width="16.8" height="5.71" fill="#e8e8f8"/><rect x="322.45" y="310.69" width="16.8" height="6.31" fill="#5c5cf0"/><rect x="272.20" y="316.40" width="16.8" height="5.71" fill="#e4e4f8"/><rect x="322.45" y="316.40" width="16.8" height="6.31" fill="#5454ee"/><rect x="322.45" y="322.11" width="16.8" height="6.31" fill="#4c4cec"/><rect x="322.45" y="327.82" width="16.8" height="6.31" fill="#4c4cec"/><rect x="288.95" y="333.53" width="16.8" height="6.31" fill="#5858e8"/><rect x="322.45" y="333.53" width="16.8" height="6.31" fill="#1010e8"/><rect x="288.95" y="339.24" width="16.8" height="5.71" fill="#a0a0f0"/><rect x="322.45" y="339.24" width="16.8" height="6.31" fill="#1010e8"/><rect x="305.70" y="344.95" width="16.8" height="5.71" fill="#e0e0f8"/><rect x="322.45" y="344.95" width="16.8" height="6.31" fill="#2000c8"/><rect x="322.45" y="350.66" width="16.8" height="6.31" fill="#2000c8"/><rect x="322.45" y="356.37" width="16.8" height="6.31" fill="#3000b0"/><rect x="322.45" y="362.08" width="16.8" height="6.31" fill="#b80030"/><rect x="322.45" y="367.79" width="16.8" height="6.31" fill="#7a0070"/><rect x="272.20" y="373.50" width="16.8" height="6.31" fill="#e0e0f6"/><rect x="288.95" y="373.50" width="16.8" height="6.31" fill="#e0e0f4"/><rect x="305.70" y="373.50" width="16.8" height="6.31" fill="#e0e0f6"/><rect x="322.45" y="373.50" width="16.8" height="6.31" fill="#e00010"/><rect x="272.20" y="379.21" width="16.8" height="5.71" fill="#e0e0f6"/><rect x="288.95" y="379.21" width="16.8" height="6.31" fill="#e0e0f4"/><rect x="305.70" y="379.21" width="16.8" height="5.71" fill="#e0e0f6"/><rect x="322.45" y="379.21" width="16.8" height="6.31" fill="#e00010"/><rect x="288.95" y="384.92" width="16.8" height="6.31" fill="#e2000e"/><rect x="322.45" y="384.92" width="16.8" height="6.31" fill="#d4d4f4"/><rect x="288.95" y="390.63" width="16.8" height="6.31" fill="#e2000e"/><rect x="322.45" y="390.63" width="16.8" height="6.31" fill="#d4d4f4"/><rect x="288.95" y="396.34" width="16.8" height="6.31" fill="#e2000e"/><rect x="322.45" y="396.34" width="16.8" height="6.31" fill="#d4d4f4"/><rect x="288.95" y="402.05" width="16.8" height="6.31" fill="#e2000e"/><rect x="322.45" y="402.05" width="16.8" height="6.31" fill="#f0f0fa"/><rect x="288.95" y="407.76" width="16.8" height="6.31" fill="#e2000e"/><rect x="322.45" y="407.76" width="16.8" height="6.31" fill="#f0f0fa"/><rect x="288.95" y="413.47" width="16.8" height="6.31" fill="#e2000e"/><rect x="322.45" y="413.47" width="16.8" height="6.31" fill="#f0f0fa"/><rect x="288.95" y="419.18" width="16.8" height="5.71" fill="#800080"/><rect x="322.45" y="419.18" width="16.8" height="5.71" fill="#f0f0fa"/><g font-size="6.15"><text x="342.6" y="92.45">hydrogen transport</text><text x="342.6" y="98.18">purine ribonucleoside triphosphatemetabolic process</text><text x="342.6" y="103.91">nucleoside monophosphate metabolic process</text><text x="342.6" y="109.63">hydrogen ion transmembrane transport</text><text x="342.6" y="115.36">purine ribonucleosidemetabolic process</text><text x="342.6" y="121.08">purine ribonucleotidemetabolic process</text><text x="342.6" y="126.80">purine ribonucleoside monophosphate metabolic process</text><text x="342.6" y="132.53">ribose phosphatemetabolic process</text><text x="342.6" y="138.25">cellular response to zinc ion</text><text x="342.6" y="143.98">lung alveolus development</text><text x="342.6" y="149.70">negative regulation of cell–cell adhesion</text><text x="342.6" y="155.43">molting cycle process</text><text x="342.6" y="161.15">negative regulation of myoblast differentiation</text><text x="342.6" y="166.88">SMAD protein signal transduction</text><text x="342.6" y="172.60">epidermis development</text><text x="342.6" y="178.33">regulation of nervous system development</text><text x="342.6" y="184.05">regulation of cell development</text><text x="342.6" y="189.78">negative regulation of mononuclear cell proliferation</text><text x="342.6" y="195.50">regulation of neuron differentiation</text><text x="342.6" y="201.23">neg regulation of transcr from RNA polymerase II promoter</text><text x="342.6" y="206.95">regulation of localization</text><text x="342.6" y="212.68">pos regulation of nuclear-transcr mRNA poly(A) tail shortening</text><text x="342.6" y="218.40">cytoskeletal anchoring at nuclear membrane</text><text x="342.6" y="224.13">reg of nuclear-transcrmRNA catabolic process</text><text x="342.6" y="229.85">negative regulation of multicellular organism growth</text><text x="342.6" y="235.58">positive regulation of GTPase activity</text><text x="342.6" y="241.30">face morphogenesis</text><text x="342.6" y="247.03">localization of cell</text><text x="342.6" y="252.75">regulation of cell motility</text><text x="342.6" y="258.48">system process</text><text x="342.6" y="264.21">organelle fission</text><text x="342.6" y="269.93">nucleosome assembly</text><text x="342.6" y="275.66">protein heterotetramerization</text><text x="342.6" y="281.38">positive regulation of natural killer cell chemotaxis</text><text x="342.6" y="287.11">nucleobase–containing small molecule interconversion</text><text x="342.6" y="292.83">microtubule cytoskeleton organization</text><text x="342.6" y="298.56">G1/S transition of mitotic cell cycle</text><text x="342.6" y="304.28">nucleotide–excision repair, DNA gap filling</text><text x="342.6" y="310.00">protein polymerization</text><text x="342.6" y="315.73">cellular response to interferon–gamma</text><text x="342.6" y="321.46">telomere maintenance via recombination</text><text x="342.6" y="327.18">telomere maintenance via semi–conservative replication</text><text x="342.6" y="332.91">cellular macromolecular complex assembly</text><text x="342.6" y="338.63">protein complex subunit organization</text><text x="342.6" y="344.36">CENP–A containing nucleosome assembly</text><text x="342.6" y="350.08">cell cycle phase transition</text><text x="342.6" y="355.81">DNA strand elongation involved in DNA replication</text><text x="342.6" y="361.53">protein–DNA complex subunit organization</text><text x="342.6" y="367.25">mitotic cell cycle</text><text x="342.6" y="372.98">cell division</text><text x="342.6" y="378.71">chromatin assembly or disassembly</text><text x="342.6" y="384.43">DNA packaging</text><text x="342.6" y="390.16">mitochondrial translational elongation</text><text x="342.6" y="395.88">mitochondrial translational initiation</text><text x="342.6" y="401.61">mitochondrial translational termination</text><text x="342.6" y="407.33">energy derivation by oxidation of organic compounds</text><text x="342.6" y="413.06">respiratory electron transport chain</text><text x="342.6" y="418.78">ATP synthesis coupled electron transport mitochondrial</text><text x="342.6" y="424.50">electron transport, NADH to ubiquinone</text></g><text transform="translate(7.5,391.5) scale(0.86,1)" font-size="12.4" style="stroke-width:0.4px">C</text><text font-size="10" y="391" text-anchor="middle"><tspan x="95">DMSO</tspan><tspan x="197.8">Torin 1</tspan></text><rect x="45.7" y="396" width="98" height="1.1" fill="#111"/><rect x="149" y="395.6" width="98" height="1.1" fill="#111"/><text font-size="10" y="408" text-anchor="middle"><tspan x="68.5">IL-2</tspan><tspan x="121.5">IL-15</tspan><tspan x="171.4">IL-2</tspan><tspan x="223">IL-15</tspan></text><rect x="45.7" y="411.4" width="45.50" height="1.1" fill="#111"/><rect x="98.1" y="411.4" width="45.60" height="1.1" fill="#111"/><rect x="149" y="411.4" width="45.00" height="1.1" fill="#111"/><rect x="198.9" y="411.4" width="48.10" height="1.1" fill="#111"/><text font-size="8.1" text-anchor="middle"><tspan x="57" y="423.4">A</tspan><tspan x="83" y="423.4">W</tspan><tspan x="108.8" y="423.4">A</tspan><tspan x="133.3" y="423.4">W</tspan><tspan x="158.4" y="422.3">A</tspan><tspan x="183.5" y="423.4">W</tspan><tspan x="210.8" y="423.4">A</tspan><tspan x="236.8" y="423.4">W</tspan></text><rect x="44" y="426.8" width="205.6" height="15.8" fill="#ebebeb" stroke="#5e5e5e" stroke-width="1.2"/><rect x="44" y="445.8" width="205.6" height="20.4" fill="#e6e6e6" stroke="#5e5e5e" stroke-width="1.2"/><rect x="44" y="467.4" width="205.6" height="14.9" fill="#f6f6f6" stroke="#5e5e5e" stroke-width="1.2"/><defs><filter id="bl" x="-20%" y="-100%" width="140%" height="300%"><feGaussianBlur stdDeviation="0.55"/></filter></defs><g filter="url(#bl)"><rect x="99.2" y="435.6" width="19.1" height="3.6" rx="1.6" fill="#222"/><rect x="124.6" y="436.6" width="16.9" height="2.6" rx="1.2" fill="#c2c2c2"/><rect x="47.5" y="457.70" width="22.00" height="2.6" rx="1.2" fill="#6a6a6a"/><rect x="75" y="456.70" width="19.50" height="2.6" rx="1.2" fill="#555"/><rect x="100.3" y="455.30" width="15.90" height="2.6" rx="1.2" fill="#a4a4a4"/><rect x="124.6" y="455.50" width="19.10" height="2.6" rx="1.2" fill="#4a4a4a"/><rect x="150" y="456.20" width="20.00" height="2.6" rx="1.2" fill="#8a8a8a"/><rect x="176.5" y="456.20" width="18.80" height="2.6" rx="1.2" fill="#5a5a5a"/><rect x="201.5" y="456.20" width="19.90" height="2.6" rx="1.2" fill="#7a7a7a"/><rect x="227.4" y="456.50" width="19.90" height="2.6" rx="1.2" fill="#4a4a4a"/><rect x="47.5" y="474.30" width="25.80" height="3.8" rx="1.9" fill="#141414"/><rect x="76.1" y="473.30" width="22.10" height="3.8" rx="1.9" fill="#141414"/><rect x="101.3" y="473.30" width="21.60" height="3.8" rx="1.9" fill="#141414"/><rect x="125.7" y="473.90" width="21.10" height="3.8" rx="1.9" fill="#141414"/><rect x="150" y="472.90" width="23.20" height="3.8" rx="1.9" fill="#141414"/><rect x="176.5" y="473.90" width="22.10" height="3.8" rx="1.9" fill="#141414"/><rect x="202" y="474.10" width="22.70" height="3.8" rx="1.9" fill="#141414"/><rect x="228" y="474.90" width="20.80" height="3.8" rx="1.9" fill="#141414"/></g><text font-size="10" text-anchor="end" x="38.8"><tspan x="38.8" y="440">S6K-P</tspan><tspan x="38.8" y="461">S6K</tspan><tspan x="38.8" y="477.5">Actin</tspan></text><rect x="0.5" y="0.5" width="519" height="494" fill="none" stroke="#000" stroke-width="1"/></g></svg></body></html>
